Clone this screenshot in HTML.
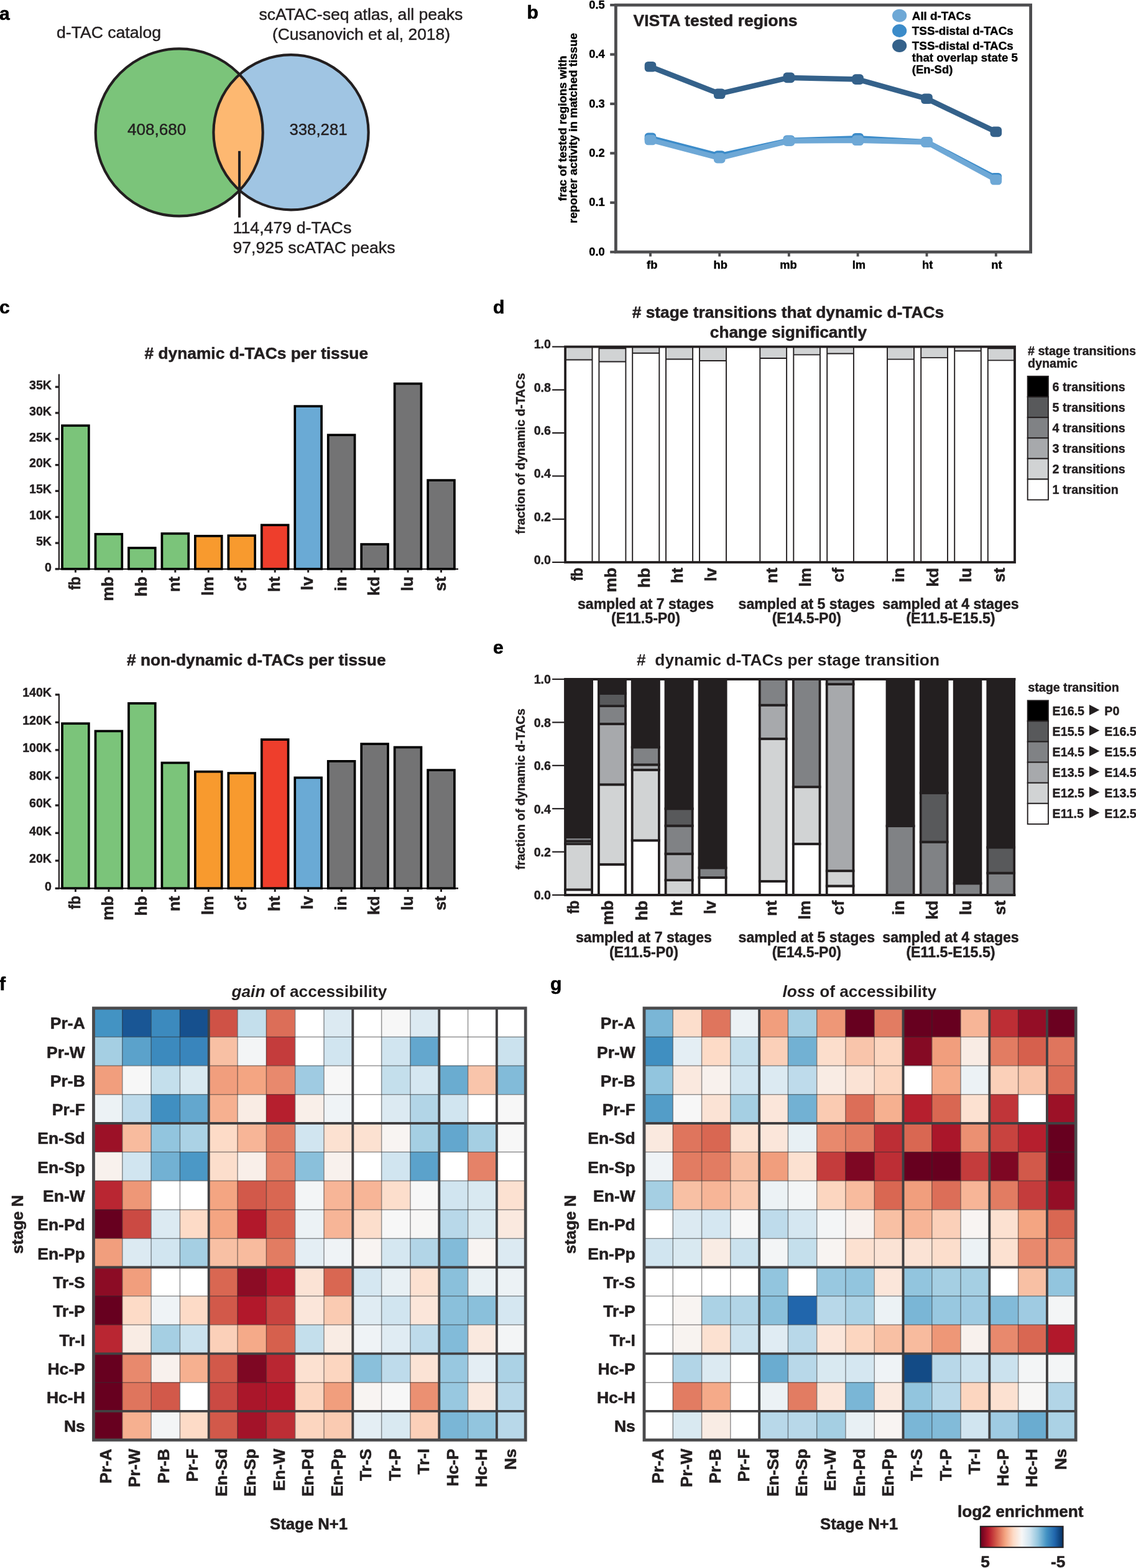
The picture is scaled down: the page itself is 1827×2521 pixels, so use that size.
<!DOCTYPE html>
<html lang="en"><head><meta charset="utf-8"><title>Figure: d-TAC dynamics</title>
<style>html,body{margin:0;padding:0;background:#fff}svg{display:block}text{font-family:'Liberation Sans', sans-serif}</style>
</head><body>
<svg width="1827" height="2521" viewBox="0 0 1827 2521" role="img" aria-label="Figure with panels a to g">
<rect x="0" y="0" width="1827" height="2521" fill="#ffffff"/>
<g id="panel-a">
<text font-size="30" font-weight="bold" text-anchor="start" fill="#000" stroke="#000" stroke-width="0.63" stroke-linejoin="round" x="-1.00" y="31.50">a</text>
<clipPath id="clipg"><circle cx="288.2" cy="212.9" r="134.5"/></clipPath>
<circle cx="288.2" cy="212.9" r="134.5" fill="#7bc47a"/>
<circle cx="468.0" cy="212.8" r="124.6" fill="#a0c5e3"/>
<circle cx="468.0" cy="212.8" r="124.6" fill="#fdb871" clip-path="url(#clipg)"/>
<circle cx="288.2" cy="212.9" r="134.5" fill="none" stroke="#231f20" stroke-width="4.2"/>
<circle cx="468.0" cy="212.8" r="124.6" fill="none" stroke="#231f20" stroke-width="4.2"/>
<line x1="385.00" y1="242.80" x2="385.00" y2="349.70" stroke="#231f20" stroke-width="4.1"/>
<text font-size="26.3" font-weight="normal" text-anchor="middle" fill="#231f20" stroke="#231f20" stroke-width="0.45" stroke-linejoin="round" textLength="168" lengthAdjust="spacingAndGlyphs" x="175.00" y="61.30">d-TAC catalog</text>
<text font-size="26.3" font-weight="normal" text-anchor="middle" fill="#231f20" stroke="#231f20" stroke-width="0.45" stroke-linejoin="round" textLength="328" lengthAdjust="spacingAndGlyphs" x="580.40" y="32.10">scATAC-seq atlas, all peaks</text>
<text font-size="26.3" font-weight="normal" text-anchor="middle" fill="#231f20" stroke="#231f20" stroke-width="0.45" stroke-linejoin="round" textLength="286" lengthAdjust="spacingAndGlyphs" x="581.00" y="63.70">(Cusanovich et al, 2018)</text>
<text font-size="26.3" font-weight="normal" text-anchor="middle" fill="#231f20" stroke="#231f20" stroke-width="0.45" stroke-linejoin="round" textLength="94.3" lengthAdjust="spacingAndGlyphs" x="252.20" y="217.30">408,680</text>
<text font-size="26.3" font-weight="normal" text-anchor="middle" fill="#231f20" stroke="#231f20" stroke-width="0.45" stroke-linejoin="round" textLength="93" lengthAdjust="spacingAndGlyphs" x="512.00" y="217.30">338,281</text>
<text font-size="26.3" font-weight="normal" text-anchor="start" fill="#231f20" stroke="#231f20" stroke-width="0.45" stroke-linejoin="round" textLength="190.8" lengthAdjust="spacingAndGlyphs" x="374.50" y="375.20">114,479 d-TACs</text>
<text font-size="26.3" font-weight="normal" text-anchor="start" fill="#231f20" stroke="#231f20" stroke-width="0.45" stroke-linejoin="round" textLength="261" lengthAdjust="spacingAndGlyphs" x="374.50" y="407.00">97,925 scATAC peaks</text>
</g>
<g id="panel-b">
<text font-size="30" font-weight="bold" text-anchor="start" fill="#000" stroke="#000" stroke-width="0.63" stroke-linejoin="round" x="847.50" y="30.40">b</text>
<polyline points="1046.0,221.9 1157.2,250.5 1268.8,225.8 1379.6,222.3 1490.5,228.2 1601.8,286.2" fill="none" stroke="#3b8bc9" stroke-width="8.5" stroke-linejoin="round"/>
<rect x="1036.7" y="213.6" width="18.6" height="16.6" rx="5.5" fill="#3b8bc9"/>
<rect x="1147.9" y="242.2" width="18.6" height="16.6" rx="5.5" fill="#3b8bc9"/>
<rect x="1259.5" y="217.5" width="18.6" height="16.6" rx="5.5" fill="#3b8bc9"/>
<rect x="1370.3" y="214.0" width="18.6" height="16.6" rx="5.5" fill="#3b8bc9"/>
<rect x="1481.2" y="219.9" width="18.6" height="16.6" rx="5.5" fill="#3b8bc9"/>
<rect x="1592.5" y="277.9" width="18.6" height="16.6" rx="5.5" fill="#3b8bc9"/>
<polyline points="1046.0,225.0 1157.2,254.1 1268.8,226.6 1379.6,225.8 1490.5,228.6 1601.8,289.0" fill="none" stroke="#6ea8d6" stroke-width="8.5" stroke-linejoin="round"/>
<rect x="1036.7" y="216.7" width="18.6" height="16.6" rx="5.5" fill="#6ea8d6"/>
<rect x="1147.9" y="245.8" width="18.6" height="16.6" rx="5.5" fill="#6ea8d6"/>
<rect x="1259.5" y="218.3" width="18.6" height="16.6" rx="5.5" fill="#6ea8d6"/>
<rect x="1370.3" y="217.5" width="18.6" height="16.6" rx="5.5" fill="#6ea8d6"/>
<rect x="1481.2" y="220.3" width="18.6" height="16.6" rx="5.5" fill="#6ea8d6"/>
<rect x="1592.5" y="280.7" width="18.6" height="16.6" rx="5.5" fill="#6ea8d6"/>
<polyline points="1046.0,107.2 1157.2,150.7 1268.8,124.9 1379.6,127.6 1490.5,158.7 1601.8,211.9" fill="none" stroke="#34618a" stroke-width="8.5" stroke-linejoin="round"/>
<rect x="1036.7" y="98.9" width="18.6" height="16.6" rx="5.5" fill="#34618a"/>
<rect x="1147.9" y="142.4" width="18.6" height="16.6" rx="5.5" fill="#34618a"/>
<rect x="1259.5" y="116.6" width="18.6" height="16.6" rx="5.5" fill="#34618a"/>
<rect x="1370.3" y="119.3" width="18.6" height="16.6" rx="5.5" fill="#34618a"/>
<rect x="1481.2" y="150.4" width="18.6" height="16.6" rx="5.5" fill="#34618a"/>
<rect x="1592.5" y="203.6" width="18.6" height="16.6" rx="5.5" fill="#34618a"/>
<rect x="990.40" y="8.10" width="667.20" height="397.00" fill="none" stroke="#4d4d4f" stroke-width="4.8"/>
<line x1="981.20" y1="405.20" x2="990.40" y2="405.20" stroke="#4d4d4f" stroke-width="4.2"/>
<text font-size="18.3" font-weight="bold" text-anchor="end" fill="#000" stroke="#000" stroke-width="0.38" stroke-linejoin="round" x="972.70" y="410.80">0.0</text>
<line x1="981.20" y1="325.78" x2="990.40" y2="325.78" stroke="#4d4d4f" stroke-width="4.2"/>
<text font-size="18.3" font-weight="bold" text-anchor="end" fill="#000" stroke="#000" stroke-width="0.38" stroke-linejoin="round" x="972.70" y="331.38">0.1</text>
<line x1="981.20" y1="246.36" x2="990.40" y2="246.36" stroke="#4d4d4f" stroke-width="4.2"/>
<text font-size="18.3" font-weight="bold" text-anchor="end" fill="#000" stroke="#000" stroke-width="0.38" stroke-linejoin="round" x="972.70" y="251.96">0.2</text>
<line x1="981.20" y1="166.94" x2="990.40" y2="166.94" stroke="#4d4d4f" stroke-width="4.2"/>
<text font-size="18.3" font-weight="bold" text-anchor="end" fill="#000" stroke="#000" stroke-width="0.38" stroke-linejoin="round" x="972.70" y="172.54">0.3</text>
<line x1="981.20" y1="87.52" x2="990.40" y2="87.52" stroke="#4d4d4f" stroke-width="4.2"/>
<text font-size="18.3" font-weight="bold" text-anchor="end" fill="#000" stroke="#000" stroke-width="0.38" stroke-linejoin="round" x="972.70" y="93.12">0.4</text>
<line x1="981.20" y1="8.10" x2="990.40" y2="8.10" stroke="#4d4d4f" stroke-width="4.2"/>
<text font-size="18.3" font-weight="bold" text-anchor="end" fill="#000" stroke="#000" stroke-width="0.38" stroke-linejoin="round" x="972.70" y="13.70">0.5</text>
<line x1="1046.00" y1="405.10" x2="1046.00" y2="412.40" stroke="#4d4d4f" stroke-width="3.9"/>
<text font-size="18.3" font-weight="bold" text-anchor="middle" fill="#000" stroke="#000" stroke-width="0.38" stroke-linejoin="round" x="1048.70" y="431.50">fb</text>
<line x1="1157.20" y1="405.10" x2="1157.20" y2="412.40" stroke="#4d4d4f" stroke-width="3.9"/>
<text font-size="18.3" font-weight="bold" text-anchor="middle" fill="#000" stroke="#000" stroke-width="0.38" stroke-linejoin="round" x="1158.70" y="431.50">hb</text>
<line x1="1268.80" y1="405.10" x2="1268.80" y2="412.40" stroke="#4d4d4f" stroke-width="3.9"/>
<text font-size="18.3" font-weight="bold" text-anchor="middle" fill="#000" stroke="#000" stroke-width="0.38" stroke-linejoin="round" x="1267.90" y="431.50">mb</text>
<line x1="1379.60" y1="405.10" x2="1379.60" y2="412.40" stroke="#4d4d4f" stroke-width="3.9"/>
<text font-size="18.3" font-weight="bold" text-anchor="middle" fill="#000" stroke="#000" stroke-width="0.38" stroke-linejoin="round" x="1381.30" y="431.50">lm</text>
<line x1="1490.50" y1="405.10" x2="1490.50" y2="412.40" stroke="#4d4d4f" stroke-width="3.9"/>
<text font-size="18.3" font-weight="bold" text-anchor="middle" fill="#000" stroke="#000" stroke-width="0.38" stroke-linejoin="round" x="1491.70" y="431.50">ht</text>
<line x1="1601.80" y1="405.10" x2="1601.80" y2="412.40" stroke="#4d4d4f" stroke-width="3.9"/>
<text font-size="18.3" font-weight="bold" text-anchor="middle" fill="#000" stroke="#000" stroke-width="0.38" stroke-linejoin="round" x="1603.00" y="431.50">nt</text>
<text font-size="26.6" font-weight="bold" text-anchor="start" fill="#231f20" stroke="#231f20" stroke-width="0.56" stroke-linejoin="round" textLength="264" lengthAdjust="spacingAndGlyphs" x="1018.50" y="42.00">VISTA tested regions</text>
<text font-size="18.8" font-weight="bold" text-anchor="middle" fill="#000" stroke="#000" stroke-width="0.39" stroke-linejoin="round" transform="translate(910.60,206.30) rotate(-90)">frac of tested regions with</text>
<text font-size="18.8" font-weight="bold" text-anchor="middle" fill="#000" stroke="#000" stroke-width="0.39" stroke-linejoin="round" transform="translate(928.40,206.00) rotate(-90)">reporter activity in matched tissue</text>
<ellipse cx="1446.6" cy="25.2" rx="11.6" ry="10.4" fill="#6ea8d6"/>
<ellipse cx="1446.6" cy="49.5" rx="11.6" ry="10.4" fill="#3b8bc9"/>
<ellipse cx="1446.6" cy="73.6" rx="11.6" ry="10.4" fill="#34618a"/>
<text font-size="18.8" font-weight="bold" text-anchor="start" fill="#000" stroke="#000" stroke-width="0.39" stroke-linejoin="round" textLength="94.8" lengthAdjust="spacingAndGlyphs" x="1466.80" y="32.00">All d-TACs</text>
<text font-size="18.8" font-weight="bold" text-anchor="start" fill="#000" stroke="#000" stroke-width="0.39" stroke-linejoin="round" textLength="163" lengthAdjust="spacingAndGlyphs" x="1466.80" y="56.30">TSS-distal d-TACs</text>
<text font-size="18.8" font-weight="bold" text-anchor="start" fill="#000" stroke="#000" stroke-width="0.39" stroke-linejoin="round" textLength="163" lengthAdjust="spacingAndGlyphs" x="1466.80" y="80.00">TSS-distal d-TACs</text>
<text font-size="18.8" font-weight="bold" text-anchor="start" fill="#000" stroke="#000" stroke-width="0.39" stroke-linejoin="round" textLength="170.2" lengthAdjust="spacingAndGlyphs" x="1466.80" y="99.20">that overlap state 5</text>
<text font-size="18.8" font-weight="bold" text-anchor="start" fill="#000" stroke="#000" stroke-width="0.39" stroke-linejoin="round" textLength="65.5" lengthAdjust="spacingAndGlyphs" x="1466.80" y="117.90">(En-Sd)</text>
</g>
<g id="panel-c">
<text font-size="30" font-weight="bold" text-anchor="start" fill="#000" stroke="#000" stroke-width="0.63" stroke-linejoin="round" x="-1.00" y="503.90">c</text>
<line x1="94.90" y1="601.40" x2="94.90" y2="916.10" stroke="#231f20" stroke-width="2.2"/>
<line x1="88.80" y1="914.90" x2="737.00" y2="914.90" stroke="#231f20" stroke-width="2.4"/>
<line x1="88.80" y1="914.90" x2="94.90" y2="914.90" stroke="#231f20" stroke-width="3.3"/>
<text font-size="19.6" font-weight="bold" text-anchor="end" fill="#231f20" stroke="#231f20" stroke-width="0.41" stroke-linejoin="round" x="83.00" y="918.80">0</text>
<line x1="88.80" y1="873.07" x2="94.90" y2="873.07" stroke="#231f20" stroke-width="3.3"/>
<text font-size="19.6" font-weight="bold" text-anchor="end" fill="#231f20" stroke="#231f20" stroke-width="0.41" stroke-linejoin="round" x="83.00" y="876.97">5K</text>
<line x1="88.80" y1="831.24" x2="94.90" y2="831.24" stroke="#231f20" stroke-width="3.3"/>
<text font-size="19.6" font-weight="bold" text-anchor="end" fill="#231f20" stroke="#231f20" stroke-width="0.41" stroke-linejoin="round" x="83.00" y="835.14">10K</text>
<line x1="88.80" y1="789.41" x2="94.90" y2="789.41" stroke="#231f20" stroke-width="3.3"/>
<text font-size="19.6" font-weight="bold" text-anchor="end" fill="#231f20" stroke="#231f20" stroke-width="0.41" stroke-linejoin="round" x="83.00" y="793.31">15K</text>
<line x1="88.80" y1="747.58" x2="94.90" y2="747.58" stroke="#231f20" stroke-width="3.3"/>
<text font-size="19.6" font-weight="bold" text-anchor="end" fill="#231f20" stroke="#231f20" stroke-width="0.41" stroke-linejoin="round" x="83.00" y="751.48">20K</text>
<line x1="88.80" y1="705.75" x2="94.90" y2="705.75" stroke="#231f20" stroke-width="3.3"/>
<text font-size="19.6" font-weight="bold" text-anchor="end" fill="#231f20" stroke="#231f20" stroke-width="0.41" stroke-linejoin="round" x="83.00" y="709.65">25K</text>
<line x1="88.80" y1="663.92" x2="94.90" y2="663.92" stroke="#231f20" stroke-width="3.3"/>
<text font-size="19.6" font-weight="bold" text-anchor="end" fill="#231f20" stroke="#231f20" stroke-width="0.41" stroke-linejoin="round" x="83.00" y="667.82">30K</text>
<line x1="88.80" y1="622.09" x2="94.90" y2="622.09" stroke="#231f20" stroke-width="3.3"/>
<text font-size="19.6" font-weight="bold" text-anchor="end" fill="#231f20" stroke="#231f20" stroke-width="0.41" stroke-linejoin="round" x="83.00" y="625.99">35K</text>
<rect x="100.05" y="684.25" width="42.80" height="230.50" fill="#7bc47a" stroke="#000" stroke-width="3.7"/>
<line x1="121.45" y1="914.90" x2="121.45" y2="920.50" stroke="#231f20" stroke-width="3"/>
<text font-size="26.3" font-weight="bold" text-anchor="end" fill="#231f20" stroke="#231f20" stroke-width="0.55" stroke-linejoin="round" textLength="21.5" lengthAdjust="spacingAndGlyphs" transform="translate(128.95,927.00) rotate(-90)">fb</text>
<rect x="153.51" y="858.75" width="42.80" height="56.00" fill="#7bc47a" stroke="#000" stroke-width="3.7"/>
<line x1="174.91" y1="914.90" x2="174.91" y2="920.50" stroke="#231f20" stroke-width="3"/>
<text font-size="26.3" font-weight="bold" text-anchor="end" fill="#231f20" stroke="#231f20" stroke-width="0.55" stroke-linejoin="round" transform="translate(182.41,927.00) rotate(-90)">mb</text>
<rect x="206.97" y="880.95" width="42.80" height="33.80" fill="#7bc47a" stroke="#000" stroke-width="3.7"/>
<line x1="228.37" y1="914.90" x2="228.37" y2="920.50" stroke="#231f20" stroke-width="3"/>
<text font-size="26.3" font-weight="bold" text-anchor="end" fill="#231f20" stroke="#231f20" stroke-width="0.55" stroke-linejoin="round" transform="translate(235.87,927.00) rotate(-90)">hb</text>
<rect x="260.43" y="857.85" width="42.80" height="56.90" fill="#7bc47a" stroke="#000" stroke-width="3.7"/>
<line x1="281.83" y1="914.90" x2="281.83" y2="920.50" stroke="#231f20" stroke-width="3"/>
<text font-size="26.3" font-weight="bold" text-anchor="end" fill="#231f20" stroke="#231f20" stroke-width="0.55" stroke-linejoin="round" transform="translate(289.33,927.00) rotate(-90)">nt</text>
<rect x="313.89" y="861.75" width="42.80" height="53.00" fill="#f89a2e" stroke="#000" stroke-width="3.7"/>
<line x1="335.29" y1="914.90" x2="335.29" y2="920.50" stroke="#231f20" stroke-width="3"/>
<text font-size="26.3" font-weight="bold" text-anchor="end" fill="#231f20" stroke="#231f20" stroke-width="0.55" stroke-linejoin="round" transform="translate(342.79,927.00) rotate(-90)">lm</text>
<rect x="367.35" y="861.15" width="42.80" height="53.60" fill="#f89a2e" stroke="#000" stroke-width="3.7"/>
<line x1="388.75" y1="914.90" x2="388.75" y2="920.50" stroke="#231f20" stroke-width="3"/>
<text font-size="26.3" font-weight="bold" text-anchor="end" fill="#231f20" stroke="#231f20" stroke-width="0.55" stroke-linejoin="round" transform="translate(396.25,927.00) rotate(-90)">cf</text>
<rect x="420.81" y="844.15" width="42.80" height="70.60" fill="#ee3e2c" stroke="#000" stroke-width="3.7"/>
<line x1="442.21" y1="914.90" x2="442.21" y2="920.50" stroke="#231f20" stroke-width="3"/>
<text font-size="26.3" font-weight="bold" text-anchor="end" fill="#231f20" stroke="#231f20" stroke-width="0.55" stroke-linejoin="round" transform="translate(449.71,927.00) rotate(-90)">ht</text>
<rect x="474.27" y="653.15" width="42.80" height="261.60" fill="#6aaad5" stroke="#000" stroke-width="3.7"/>
<line x1="495.67" y1="914.90" x2="495.67" y2="920.50" stroke="#231f20" stroke-width="3"/>
<text font-size="26.3" font-weight="bold" text-anchor="end" fill="#231f20" stroke="#231f20" stroke-width="0.55" stroke-linejoin="round" transform="translate(503.17,927.00) rotate(-90)">lv</text>
<rect x="527.73" y="699.35" width="42.80" height="215.40" fill="#737374" stroke="#000" stroke-width="3.7"/>
<line x1="549.13" y1="914.90" x2="549.13" y2="920.50" stroke="#231f20" stroke-width="3"/>
<text font-size="26.3" font-weight="bold" text-anchor="end" fill="#231f20" stroke="#231f20" stroke-width="0.55" stroke-linejoin="round" transform="translate(556.63,927.00) rotate(-90)">in</text>
<rect x="581.19" y="875.05" width="42.80" height="39.70" fill="#737374" stroke="#000" stroke-width="3.7"/>
<line x1="602.59" y1="914.90" x2="602.59" y2="920.50" stroke="#231f20" stroke-width="3"/>
<text font-size="26.3" font-weight="bold" text-anchor="end" fill="#231f20" stroke="#231f20" stroke-width="0.55" stroke-linejoin="round" transform="translate(610.09,927.00) rotate(-90)">kd</text>
<rect x="634.65" y="616.85" width="42.80" height="297.90" fill="#737374" stroke="#000" stroke-width="3.7"/>
<line x1="656.05" y1="914.90" x2="656.05" y2="920.50" stroke="#231f20" stroke-width="3"/>
<text font-size="26.3" font-weight="bold" text-anchor="end" fill="#231f20" stroke="#231f20" stroke-width="0.55" stroke-linejoin="round" transform="translate(663.55,927.00) rotate(-90)">lu</text>
<rect x="688.11" y="772.15" width="42.80" height="142.60" fill="#737374" stroke="#000" stroke-width="3.7"/>
<line x1="709.51" y1="914.90" x2="709.51" y2="920.50" stroke="#231f20" stroke-width="3"/>
<text font-size="26.3" font-weight="bold" text-anchor="end" fill="#231f20" stroke="#231f20" stroke-width="0.55" stroke-linejoin="round" transform="translate(717.01,927.00) rotate(-90)">st</text>
<text font-size="26.3" font-weight="bold" text-anchor="middle" fill="#231f20" stroke="#231f20" stroke-width="0.55" stroke-linejoin="round" textLength="359.6" lengthAdjust="spacingAndGlyphs" x="412.30" y="576.60"># dynamic d-TACs per tissue</text>
<line x1="94.90" y1="1115.40" x2="94.90" y2="1429.50" stroke="#231f20" stroke-width="2.2"/>
<line x1="88.80" y1="1428.30" x2="737.00" y2="1428.30" stroke="#231f20" stroke-width="2.4"/>
<line x1="88.80" y1="1428.30" x2="94.90" y2="1428.30" stroke="#231f20" stroke-width="3.3"/>
<text font-size="19.6" font-weight="bold" text-anchor="end" fill="#231f20" stroke="#231f20" stroke-width="0.41" stroke-linejoin="round" x="83.00" y="1431.60">0</text>
<line x1="88.80" y1="1383.81" x2="94.90" y2="1383.81" stroke="#231f20" stroke-width="3.3"/>
<text font-size="19.6" font-weight="bold" text-anchor="end" fill="#231f20" stroke="#231f20" stroke-width="0.41" stroke-linejoin="round" x="83.00" y="1387.11">20K</text>
<line x1="88.80" y1="1339.32" x2="94.90" y2="1339.32" stroke="#231f20" stroke-width="3.3"/>
<text font-size="19.6" font-weight="bold" text-anchor="end" fill="#231f20" stroke="#231f20" stroke-width="0.41" stroke-linejoin="round" x="83.00" y="1342.62">40K</text>
<line x1="88.80" y1="1294.83" x2="94.90" y2="1294.83" stroke="#231f20" stroke-width="3.3"/>
<text font-size="19.6" font-weight="bold" text-anchor="end" fill="#231f20" stroke="#231f20" stroke-width="0.41" stroke-linejoin="round" x="83.00" y="1298.13">60K</text>
<line x1="88.80" y1="1250.34" x2="94.90" y2="1250.34" stroke="#231f20" stroke-width="3.3"/>
<text font-size="19.6" font-weight="bold" text-anchor="end" fill="#231f20" stroke="#231f20" stroke-width="0.41" stroke-linejoin="round" x="83.00" y="1253.64">80K</text>
<line x1="88.80" y1="1205.85" x2="94.90" y2="1205.85" stroke="#231f20" stroke-width="3.3"/>
<text font-size="19.6" font-weight="bold" text-anchor="end" fill="#231f20" stroke="#231f20" stroke-width="0.41" stroke-linejoin="round" x="83.00" y="1209.15">100K</text>
<line x1="88.80" y1="1161.36" x2="94.90" y2="1161.36" stroke="#231f20" stroke-width="3.3"/>
<text font-size="19.6" font-weight="bold" text-anchor="end" fill="#231f20" stroke="#231f20" stroke-width="0.41" stroke-linejoin="round" x="83.00" y="1164.66">120K</text>
<line x1="88.80" y1="1116.87" x2="94.90" y2="1116.87" stroke="#231f20" stroke-width="3.3"/>
<text font-size="19.6" font-weight="bold" text-anchor="end" fill="#231f20" stroke="#231f20" stroke-width="0.41" stroke-linejoin="round" x="83.00" y="1120.17">140K</text>
<rect x="100.05" y="1163.25" width="42.80" height="264.90" fill="#7bc47a" stroke="#000" stroke-width="3.7"/>
<line x1="121.45" y1="1428.30" x2="121.45" y2="1433.90" stroke="#231f20" stroke-width="3"/>
<text font-size="26.3" font-weight="bold" text-anchor="end" fill="#231f20" stroke="#231f20" stroke-width="0.55" stroke-linejoin="round" textLength="21.5" lengthAdjust="spacingAndGlyphs" transform="translate(128.95,1440.40) rotate(-90)">fb</text>
<rect x="153.51" y="1175.45" width="42.80" height="252.70" fill="#7bc47a" stroke="#000" stroke-width="3.7"/>
<line x1="174.91" y1="1428.30" x2="174.91" y2="1433.90" stroke="#231f20" stroke-width="3"/>
<text font-size="26.3" font-weight="bold" text-anchor="end" fill="#231f20" stroke="#231f20" stroke-width="0.55" stroke-linejoin="round" transform="translate(182.41,1440.40) rotate(-90)">mb</text>
<rect x="206.97" y="1130.85" width="42.80" height="297.30" fill="#7bc47a" stroke="#000" stroke-width="3.7"/>
<line x1="228.37" y1="1428.30" x2="228.37" y2="1433.90" stroke="#231f20" stroke-width="3"/>
<text font-size="26.3" font-weight="bold" text-anchor="end" fill="#231f20" stroke="#231f20" stroke-width="0.55" stroke-linejoin="round" transform="translate(235.87,1440.40) rotate(-90)">hb</text>
<rect x="260.43" y="1226.45" width="42.80" height="201.70" fill="#7bc47a" stroke="#000" stroke-width="3.7"/>
<line x1="281.83" y1="1428.30" x2="281.83" y2="1433.90" stroke="#231f20" stroke-width="3"/>
<text font-size="26.3" font-weight="bold" text-anchor="end" fill="#231f20" stroke="#231f20" stroke-width="0.55" stroke-linejoin="round" transform="translate(289.33,1440.40) rotate(-90)">nt</text>
<rect x="313.89" y="1240.65" width="42.80" height="187.50" fill="#f89a2e" stroke="#000" stroke-width="3.7"/>
<line x1="335.29" y1="1428.30" x2="335.29" y2="1433.90" stroke="#231f20" stroke-width="3"/>
<text font-size="26.3" font-weight="bold" text-anchor="end" fill="#231f20" stroke="#231f20" stroke-width="0.55" stroke-linejoin="round" transform="translate(342.79,1440.40) rotate(-90)">lm</text>
<rect x="367.35" y="1243.05" width="42.80" height="185.10" fill="#f89a2e" stroke="#000" stroke-width="3.7"/>
<line x1="388.75" y1="1428.30" x2="388.75" y2="1433.90" stroke="#231f20" stroke-width="3"/>
<text font-size="26.3" font-weight="bold" text-anchor="end" fill="#231f20" stroke="#231f20" stroke-width="0.55" stroke-linejoin="round" transform="translate(396.25,1440.40) rotate(-90)">cf</text>
<rect x="420.81" y="1189.05" width="42.80" height="239.10" fill="#ee3e2c" stroke="#000" stroke-width="3.7"/>
<line x1="442.21" y1="1428.30" x2="442.21" y2="1433.90" stroke="#231f20" stroke-width="3"/>
<text font-size="26.3" font-weight="bold" text-anchor="end" fill="#231f20" stroke="#231f20" stroke-width="0.55" stroke-linejoin="round" transform="translate(449.71,1440.40) rotate(-90)">ht</text>
<rect x="474.27" y="1250.35" width="42.80" height="177.80" fill="#6aaad5" stroke="#000" stroke-width="3.7"/>
<line x1="495.67" y1="1428.30" x2="495.67" y2="1433.90" stroke="#231f20" stroke-width="3"/>
<text font-size="26.3" font-weight="bold" text-anchor="end" fill="#231f20" stroke="#231f20" stroke-width="0.55" stroke-linejoin="round" transform="translate(503.17,1440.40) rotate(-90)">lv</text>
<rect x="527.73" y="1223.85" width="42.80" height="204.30" fill="#737374" stroke="#000" stroke-width="3.7"/>
<line x1="549.13" y1="1428.30" x2="549.13" y2="1433.90" stroke="#231f20" stroke-width="3"/>
<text font-size="26.3" font-weight="bold" text-anchor="end" fill="#231f20" stroke="#231f20" stroke-width="0.55" stroke-linejoin="round" transform="translate(556.63,1440.40) rotate(-90)">in</text>
<rect x="581.19" y="1196.05" width="42.80" height="232.10" fill="#737374" stroke="#000" stroke-width="3.7"/>
<line x1="602.59" y1="1428.30" x2="602.59" y2="1433.90" stroke="#231f20" stroke-width="3"/>
<text font-size="26.3" font-weight="bold" text-anchor="end" fill="#231f20" stroke="#231f20" stroke-width="0.55" stroke-linejoin="round" transform="translate(610.09,1440.40) rotate(-90)">kd</text>
<rect x="634.65" y="1201.45" width="42.80" height="226.70" fill="#737374" stroke="#000" stroke-width="3.7"/>
<line x1="656.05" y1="1428.30" x2="656.05" y2="1433.90" stroke="#231f20" stroke-width="3"/>
<text font-size="26.3" font-weight="bold" text-anchor="end" fill="#231f20" stroke="#231f20" stroke-width="0.55" stroke-linejoin="round" transform="translate(663.55,1440.40) rotate(-90)">lu</text>
<rect x="688.11" y="1238.15" width="42.80" height="190.00" fill="#737374" stroke="#000" stroke-width="3.7"/>
<line x1="709.51" y1="1428.30" x2="709.51" y2="1433.90" stroke="#231f20" stroke-width="3"/>
<text font-size="26.3" font-weight="bold" text-anchor="end" fill="#231f20" stroke="#231f20" stroke-width="0.55" stroke-linejoin="round" transform="translate(717.01,1440.40) rotate(-90)">st</text>
<text font-size="26.3" font-weight="bold" text-anchor="middle" fill="#231f20" stroke="#231f20" stroke-width="0.55" stroke-linejoin="round" textLength="416.5" lengthAdjust="spacingAndGlyphs" x="412.30" y="1069.70"># non-dynamic d-TACs per tissue</text>
</g>
<g id="panel-d">
<text font-size="30" font-weight="bold" text-anchor="start" fill="#000" stroke="#000" stroke-width="0.63" stroke-linejoin="round" x="793.00" y="503.50">d</text>
<text font-size="26.3" font-weight="bold" text-anchor="middle" fill="#231f20" stroke="#231f20" stroke-width="0.55" stroke-linejoin="round" textLength="501.4" lengthAdjust="spacingAndGlyphs" x="1267.40" y="511.10"># stage transitions that dynamic d-TACs</text>
<text font-size="26.3" font-weight="bold" text-anchor="middle" fill="#231f20" stroke="#231f20" stroke-width="0.55" stroke-linejoin="round" textLength="252.2" lengthAdjust="spacingAndGlyphs" x="1267.90" y="543.00">change significantly</text>
<rect x="909.50" y="557.50" width="43.00" height="346.50" fill="#fff"/>
<rect x="909.50" y="557.50" width="43.00" height="20.50" fill="#d1d3d4"/>
<line x1="909.50" y1="578.50" x2="952.50" y2="578.50" stroke="#231f20" stroke-width="1.9"/>
<line x1="909.50" y1="557.50" x2="909.50" y2="904.00" stroke="#231f20" stroke-width="1.9"/>
<line x1="952.50" y1="557.50" x2="952.50" y2="904.00" stroke="#231f20" stroke-width="1.9"/>
<rect x="963.40" y="557.50" width="43.00" height="346.50" fill="#fff"/>
<rect x="963.40" y="557.50" width="43.00" height="23.50" fill="#d1d3d4"/>
<rect x="963.40" y="557.50" width="43.00" height="3.70" fill="#231f20"/>
<line x1="963.40" y1="581.50" x2="1006.40" y2="581.50" stroke="#231f20" stroke-width="1.9"/>
<line x1="963.40" y1="557.50" x2="963.40" y2="904.00" stroke="#231f20" stroke-width="1.9"/>
<line x1="1006.40" y1="557.50" x2="1006.40" y2="904.00" stroke="#231f20" stroke-width="1.9"/>
<rect x="1017.20" y="557.50" width="43.10" height="346.50" fill="#fff"/>
<rect x="1017.20" y="557.50" width="43.10" height="9.80" fill="#d1d3d4"/>
<line x1="1017.20" y1="567.80" x2="1060.30" y2="567.80" stroke="#231f20" stroke-width="1.9"/>
<line x1="1017.20" y1="557.50" x2="1017.20" y2="904.00" stroke="#231f20" stroke-width="1.9"/>
<line x1="1060.30" y1="557.50" x2="1060.30" y2="904.00" stroke="#231f20" stroke-width="1.9"/>
<rect x="1071.00" y="557.50" width="43.10" height="346.50" fill="#fff"/>
<rect x="1071.00" y="557.50" width="43.10" height="19.50" fill="#d1d3d4"/>
<line x1="1071.00" y1="577.50" x2="1114.10" y2="577.50" stroke="#231f20" stroke-width="1.9"/>
<line x1="1071.00" y1="557.50" x2="1071.00" y2="904.00" stroke="#231f20" stroke-width="1.9"/>
<line x1="1114.10" y1="557.50" x2="1114.10" y2="904.00" stroke="#231f20" stroke-width="1.9"/>
<rect x="1125.00" y="557.50" width="43.00" height="346.50" fill="#fff"/>
<rect x="1125.00" y="557.50" width="43.00" height="22.00" fill="#d1d3d4"/>
<line x1="1125.00" y1="580.00" x2="1168.00" y2="580.00" stroke="#231f20" stroke-width="1.9"/>
<line x1="1125.00" y1="557.50" x2="1125.00" y2="904.00" stroke="#231f20" stroke-width="1.9"/>
<line x1="1168.00" y1="557.50" x2="1168.00" y2="904.00" stroke="#231f20" stroke-width="1.9"/>
<rect x="1222.30" y="557.50" width="42.80" height="346.50" fill="#fff"/>
<rect x="1222.30" y="557.50" width="42.80" height="18.00" fill="#d1d3d4"/>
<line x1="1222.30" y1="576.00" x2="1265.10" y2="576.00" stroke="#231f20" stroke-width="1.9"/>
<line x1="1222.30" y1="557.50" x2="1222.30" y2="904.00" stroke="#231f20" stroke-width="1.9"/>
<line x1="1265.10" y1="557.50" x2="1265.10" y2="904.00" stroke="#231f20" stroke-width="1.9"/>
<rect x="1276.30" y="557.50" width="42.60" height="346.50" fill="#fff"/>
<rect x="1276.30" y="557.50" width="42.60" height="12.40" fill="#d1d3d4"/>
<line x1="1276.30" y1="570.40" x2="1318.90" y2="570.40" stroke="#231f20" stroke-width="1.9"/>
<line x1="1276.30" y1="557.50" x2="1276.30" y2="904.00" stroke="#231f20" stroke-width="1.9"/>
<line x1="1318.90" y1="557.50" x2="1318.90" y2="904.00" stroke="#231f20" stroke-width="1.9"/>
<rect x="1330.20" y="557.50" width="42.70" height="346.50" fill="#fff"/>
<rect x="1330.20" y="557.50" width="42.70" height="10.50" fill="#d1d3d4"/>
<line x1="1330.20" y1="568.50" x2="1372.90" y2="568.50" stroke="#231f20" stroke-width="1.9"/>
<line x1="1330.20" y1="557.50" x2="1330.20" y2="904.00" stroke="#231f20" stroke-width="1.9"/>
<line x1="1372.90" y1="557.50" x2="1372.90" y2="904.00" stroke="#231f20" stroke-width="1.9"/>
<rect x="1427.00" y="557.50" width="43.00" height="346.50" fill="#fff"/>
<rect x="1427.00" y="557.50" width="43.00" height="19.60" fill="#d1d3d4"/>
<line x1="1427.00" y1="577.60" x2="1470.00" y2="577.60" stroke="#231f20" stroke-width="1.9"/>
<line x1="1427.00" y1="557.50" x2="1427.00" y2="904.00" stroke="#231f20" stroke-width="1.9"/>
<line x1="1470.00" y1="557.50" x2="1470.00" y2="904.00" stroke="#231f20" stroke-width="1.9"/>
<rect x="1481.20" y="557.50" width="42.80" height="346.50" fill="#fff"/>
<rect x="1481.20" y="557.50" width="42.80" height="17.10" fill="#d1d3d4"/>
<line x1="1481.20" y1="575.10" x2="1524.00" y2="575.10" stroke="#231f20" stroke-width="1.9"/>
<line x1="1481.20" y1="557.50" x2="1481.20" y2="904.00" stroke="#231f20" stroke-width="1.9"/>
<line x1="1524.00" y1="557.50" x2="1524.00" y2="904.00" stroke="#231f20" stroke-width="1.9"/>
<rect x="1535.20" y="557.50" width="42.60" height="346.50" fill="#fff"/>
<rect x="1535.20" y="557.50" width="42.60" height="6.20" fill="#d1d3d4"/>
<line x1="1535.20" y1="564.20" x2="1577.80" y2="564.20" stroke="#231f20" stroke-width="1.9"/>
<line x1="1535.20" y1="557.50" x2="1535.20" y2="904.00" stroke="#231f20" stroke-width="1.9"/>
<line x1="1577.80" y1="557.50" x2="1577.80" y2="904.00" stroke="#231f20" stroke-width="1.9"/>
<rect x="1588.80" y="557.50" width="42.80" height="346.50" fill="#fff"/>
<rect x="1588.80" y="557.50" width="42.80" height="21.40" fill="#d1d3d4"/>
<rect x="1588.80" y="557.50" width="42.80" height="3.70" fill="#231f20"/>
<line x1="1588.80" y1="579.40" x2="1631.60" y2="579.40" stroke="#231f20" stroke-width="1.9"/>
<line x1="1588.80" y1="557.50" x2="1588.80" y2="904.00" stroke="#231f20" stroke-width="1.9"/>
<line x1="1631.60" y1="557.50" x2="1631.60" y2="904.00" stroke="#231f20" stroke-width="1.9"/>
<rect x="909.10" y="557.50" width="722.90" height="346.50" fill="none" stroke="#231f20" stroke-width="3.8"/>
<line x1="888.10" y1="904.00" x2="908.00" y2="904.00" stroke="#231f20" stroke-width="2.2"/>
<text font-size="19.7" font-weight="bold" text-anchor="end" fill="#231f20" stroke="#231f20" stroke-width="0.41" stroke-linejoin="round" x="886.00" y="906.90">0.0</text>
<line x1="888.10" y1="834.70" x2="908.00" y2="834.70" stroke="#231f20" stroke-width="2.2"/>
<text font-size="19.7" font-weight="bold" text-anchor="end" fill="#231f20" stroke="#231f20" stroke-width="0.41" stroke-linejoin="round" x="886.00" y="837.60">0.2</text>
<line x1="888.10" y1="765.40" x2="908.00" y2="765.40" stroke="#231f20" stroke-width="2.2"/>
<text font-size="19.7" font-weight="bold" text-anchor="end" fill="#231f20" stroke="#231f20" stroke-width="0.41" stroke-linejoin="round" x="886.00" y="768.30">0.4</text>
<line x1="888.10" y1="696.10" x2="908.00" y2="696.10" stroke="#231f20" stroke-width="2.2"/>
<text font-size="19.7" font-weight="bold" text-anchor="end" fill="#231f20" stroke="#231f20" stroke-width="0.41" stroke-linejoin="round" x="886.00" y="699.00">0.6</text>
<line x1="888.10" y1="626.80" x2="908.00" y2="626.80" stroke="#231f20" stroke-width="2.2"/>
<text font-size="19.7" font-weight="bold" text-anchor="end" fill="#231f20" stroke="#231f20" stroke-width="0.41" stroke-linejoin="round" x="886.00" y="629.70">0.8</text>
<line x1="888.10" y1="557.50" x2="908.00" y2="557.50" stroke="#231f20" stroke-width="2.2"/>
<text font-size="19.7" font-weight="bold" text-anchor="end" fill="#231f20" stroke="#231f20" stroke-width="0.41" stroke-linejoin="round" x="886.00" y="560.40">1.0</text>
<text font-size="20" font-weight="bold" text-anchor="middle" fill="#231f20" stroke="#231f20" stroke-width="0.42" stroke-linejoin="round" textLength="259" lengthAdjust="spacingAndGlyphs" transform="translate(844.30,729.25) rotate(-90)">fraction of dynamic d-TACs</text>
<text font-size="26.3" font-weight="bold" text-anchor="end" fill="#231f20" stroke="#231f20" stroke-width="0.55" stroke-linejoin="round" textLength="21.5" lengthAdjust="spacingAndGlyphs" transform="translate(937.30,912.80) rotate(-90)">fb</text>
<text font-size="26.3" font-weight="bold" text-anchor="end" fill="#231f20" stroke="#231f20" stroke-width="0.55" stroke-linejoin="round" transform="translate(990.80,912.80) rotate(-90)">mb</text>
<text font-size="26.3" font-weight="bold" text-anchor="end" fill="#231f20" stroke="#231f20" stroke-width="0.55" stroke-linejoin="round" transform="translate(1044.60,912.80) rotate(-90)">hb</text>
<text font-size="26.3" font-weight="bold" text-anchor="end" fill="#231f20" stroke="#231f20" stroke-width="0.55" stroke-linejoin="round" transform="translate(1097.80,912.80) rotate(-90)">ht</text>
<text font-size="26.3" font-weight="bold" text-anchor="end" fill="#231f20" stroke="#231f20" stroke-width="0.55" stroke-linejoin="round" transform="translate(1152.00,912.80) rotate(-90)">lv</text>
<text font-size="26.3" font-weight="bold" text-anchor="end" fill="#231f20" stroke="#231f20" stroke-width="0.55" stroke-linejoin="round" transform="translate(1249.50,912.80) rotate(-90)">nt</text>
<text font-size="26.3" font-weight="bold" text-anchor="end" fill="#231f20" stroke="#231f20" stroke-width="0.55" stroke-linejoin="round" transform="translate(1303.70,912.80) rotate(-90)">lm</text>
<text font-size="26.3" font-weight="bold" text-anchor="end" fill="#231f20" stroke="#231f20" stroke-width="0.55" stroke-linejoin="round" transform="translate(1357.40,912.80) rotate(-90)">cf</text>
<text font-size="26.3" font-weight="bold" text-anchor="end" fill="#231f20" stroke="#231f20" stroke-width="0.55" stroke-linejoin="round" transform="translate(1454.40,912.80) rotate(-90)">in</text>
<text font-size="26.3" font-weight="bold" text-anchor="end" fill="#231f20" stroke="#231f20" stroke-width="0.55" stroke-linejoin="round" transform="translate(1508.80,912.80) rotate(-90)">kd</text>
<text font-size="26.3" font-weight="bold" text-anchor="end" fill="#231f20" stroke="#231f20" stroke-width="0.55" stroke-linejoin="round" transform="translate(1561.80,912.80) rotate(-90)">lu</text>
<text font-size="26.3" font-weight="bold" text-anchor="end" fill="#231f20" stroke="#231f20" stroke-width="0.55" stroke-linejoin="round" transform="translate(1616.30,912.80) rotate(-90)">st</text>
<text font-size="23.1" font-weight="bold" text-anchor="middle" fill="#231f20" stroke="#231f20" stroke-width="0.48" stroke-linejoin="round" textLength="219" lengthAdjust="spacingAndGlyphs" x="1038.50" y="978.50">sampled at 7 stages</text>
<text font-size="23.1" font-weight="bold" text-anchor="middle" fill="#231f20" stroke="#231f20" stroke-width="0.48" stroke-linejoin="round" textLength="111" lengthAdjust="spacingAndGlyphs" x="1038.50" y="1002.00">(E11.5-P0)</text>
<text font-size="23.1" font-weight="bold" text-anchor="middle" fill="#231f20" stroke="#231f20" stroke-width="0.48" stroke-linejoin="round" textLength="219.5" lengthAdjust="spacingAndGlyphs" x="1297.30" y="978.50">sampled at 5 stages</text>
<text font-size="23.1" font-weight="bold" text-anchor="middle" fill="#231f20" stroke="#231f20" stroke-width="0.48" stroke-linejoin="round" textLength="111.3" lengthAdjust="spacingAndGlyphs" x="1297.30" y="1002.00">(E14.5-P0)</text>
<text font-size="23.1" font-weight="bold" text-anchor="middle" fill="#231f20" stroke="#231f20" stroke-width="0.48" stroke-linejoin="round" textLength="219.3" lengthAdjust="spacingAndGlyphs" x="1529.00" y="978.50">sampled at 4 stages</text>
<text font-size="23.1" font-weight="bold" text-anchor="middle" fill="#231f20" stroke="#231f20" stroke-width="0.48" stroke-linejoin="round" textLength="143.2" lengthAdjust="spacingAndGlyphs" x="1529.00" y="1002.00">(E11.5-E15.5)</text>
<rect x="1652.70" y="605.00" width="33.20" height="33.10" fill="#000000" stroke="#231f20" stroke-width="1.9"/>
<rect x="1652.70" y="638.10" width="33.20" height="33.10" fill="#58595b" stroke="#231f20" stroke-width="1.9"/>
<rect x="1652.70" y="671.20" width="33.20" height="33.10" fill="#808285" stroke="#231f20" stroke-width="1.9"/>
<rect x="1652.70" y="704.30" width="33.20" height="33.10" fill="#a7a9ac" stroke="#231f20" stroke-width="1.9"/>
<rect x="1652.70" y="737.40" width="33.20" height="33.10" fill="#d1d3d4" stroke="#231f20" stroke-width="1.9"/>
<rect x="1652.70" y="770.50" width="33.20" height="33.10" fill="#ffffff" stroke="#231f20" stroke-width="1.9"/>
<text font-size="19.7" font-weight="bold" text-anchor="start" fill="#231f20" stroke="#231f20" stroke-width="0.41" stroke-linejoin="round" x="1692.60" y="628.70">6 transitions</text>
<text font-size="19.7" font-weight="bold" text-anchor="start" fill="#231f20" stroke="#231f20" stroke-width="0.41" stroke-linejoin="round" x="1692.60" y="661.75">5 transitions</text>
<text font-size="19.7" font-weight="bold" text-anchor="start" fill="#231f20" stroke="#231f20" stroke-width="0.41" stroke-linejoin="round" x="1692.60" y="694.80">4 transitions</text>
<text font-size="19.7" font-weight="bold" text-anchor="start" fill="#231f20" stroke="#231f20" stroke-width="0.41" stroke-linejoin="round" x="1692.60" y="727.85">3 transitions</text>
<text font-size="19.7" font-weight="bold" text-anchor="start" fill="#231f20" stroke="#231f20" stroke-width="0.41" stroke-linejoin="round" x="1692.60" y="760.90">2 transitions</text>
<text font-size="19.7" font-weight="bold" text-anchor="start" fill="#231f20" stroke="#231f20" stroke-width="0.41" stroke-linejoin="round" x="1692.60" y="793.95">1 transition</text>
<text font-size="19.7" font-weight="bold" text-anchor="start" fill="#231f20" stroke="#231f20" stroke-width="0.41" stroke-linejoin="round" x="1653.00" y="570.60"># stage transitions</text>
<text font-size="19.7" font-weight="bold" text-anchor="start" fill="#231f20" stroke="#231f20" stroke-width="0.41" stroke-linejoin="round" x="1653.00" y="590.50">dynamic</text>
</g>
<g id="panel-e">
<text font-size="30" font-weight="bold" text-anchor="start" fill="#000" stroke="#000" stroke-width="0.63" stroke-linejoin="round" x="793.00" y="1051.30">e</text>
<text x="1267.5" y="1070.1" font-size="26.3" font-weight="bold" text-anchor="middle" fill="#231f20" xml:space="preserve" textLength="487" lengthAdjust="spacingAndGlyphs">#  dynamic d-TACs per stage transition</text>
<rect x="909.00" y="1430.38" width="43.10" height="8.62" fill="#ffffff" stroke="#231f20" stroke-width="3.8"/>
<rect x="909.00" y="1356.64" width="43.10" height="73.74" fill="#d1d3d4" stroke="#231f20" stroke-width="3.8"/>
<rect x="909.00" y="1092.00" width="43.10" height="264.64" fill="#231f20" stroke="#231f20" stroke-width="3.8"/>
<rect x="962.90" y="1389.78" width="43.10" height="49.22" fill="#ffffff" stroke="#231f20" stroke-width="3.8"/>
<rect x="962.90" y="1261.39" width="43.10" height="128.39" fill="#d1d3d4" stroke="#231f20" stroke-width="3.8"/>
<rect x="962.90" y="1163.88" width="43.10" height="97.51" fill="#a7a9ac" stroke="#231f20" stroke-width="3.8"/>
<rect x="962.90" y="1135.08" width="43.10" height="28.80" fill="#808285" stroke="#231f20" stroke-width="3.8"/>
<rect x="962.90" y="1114.96" width="43.10" height="20.13" fill="#58595b" stroke="#231f20" stroke-width="3.8"/>
<rect x="962.90" y="1092.00" width="43.10" height="22.96" fill="#231f20" stroke="#231f20" stroke-width="3.8"/>
<rect x="1016.70" y="1351.26" width="43.20" height="87.74" fill="#ffffff" stroke="#231f20" stroke-width="3.8"/>
<rect x="1016.70" y="1237.79" width="43.20" height="113.47" fill="#d1d3d4" stroke="#231f20" stroke-width="3.8"/>
<rect x="1016.70" y="1229.47" width="43.20" height="8.33" fill="#a7a9ac" stroke="#231f20" stroke-width="3.8"/>
<rect x="1016.70" y="1201.36" width="43.20" height="28.11" fill="#808285" stroke="#231f20" stroke-width="3.8"/>
<rect x="1016.70" y="1092.00" width="43.20" height="109.36" fill="#231f20" stroke="#231f20" stroke-width="3.8"/>
<rect x="1070.50" y="1415.11" width="43.20" height="23.89" fill="#d1d3d4" stroke="#231f20" stroke-width="3.8"/>
<rect x="1070.50" y="1372.78" width="43.20" height="42.33" fill="#a7a9ac" stroke="#231f20" stroke-width="3.8"/>
<rect x="1070.50" y="1327.67" width="43.20" height="45.11" fill="#808285" stroke="#231f20" stroke-width="3.8"/>
<rect x="1070.50" y="1300.25" width="43.20" height="27.41" fill="#58595b" stroke="#231f20" stroke-width="3.8"/>
<rect x="1070.50" y="1092.00" width="43.20" height="208.25" fill="#231f20" stroke="#231f20" stroke-width="3.8"/>
<rect x="1124.50" y="1410.95" width="43.10" height="28.05" fill="#ffffff" stroke="#231f20" stroke-width="3.8"/>
<rect x="1124.50" y="1395.33" width="43.10" height="15.62" fill="#808285" stroke="#231f20" stroke-width="3.8"/>
<rect x="1124.50" y="1092.00" width="43.10" height="303.33" fill="#231f20" stroke="#231f20" stroke-width="3.8"/>
<rect x="1221.80" y="1416.85" width="42.90" height="22.15" fill="#ffffff" stroke="#231f20" stroke-width="3.8"/>
<rect x="1221.80" y="1187.83" width="42.90" height="229.02" fill="#d1d3d4" stroke="#231f20" stroke-width="3.8"/>
<rect x="1221.80" y="1133.69" width="42.90" height="54.13" fill="#a7a9ac" stroke="#231f20" stroke-width="3.8"/>
<rect x="1221.80" y="1092.00" width="42.90" height="41.69" fill="#808285" stroke="#231f20" stroke-width="3.8"/>
<rect x="1275.80" y="1356.81" width="42.70" height="82.19" fill="#ffffff" stroke="#231f20" stroke-width="3.8"/>
<rect x="1275.80" y="1265.21" width="42.70" height="91.61" fill="#d1d3d4" stroke="#231f20" stroke-width="3.8"/>
<rect x="1275.80" y="1092.00" width="42.70" height="173.21" fill="#808285" stroke="#231f20" stroke-width="3.8"/>
<rect x="1329.70" y="1424.48" width="42.80" height="14.52" fill="#ffffff" stroke="#231f20" stroke-width="3.8"/>
<rect x="1329.70" y="1400.19" width="42.80" height="24.29" fill="#d1d3d4" stroke="#231f20" stroke-width="3.8"/>
<rect x="1329.70" y="1100.03" width="42.80" height="300.15" fill="#a7a9ac" stroke="#231f20" stroke-width="3.8"/>
<rect x="1329.70" y="1092.00" width="42.80" height="8.03" fill="#808285" stroke="#231f20" stroke-width="3.8"/>
<rect x="1426.50" y="1328.01" width="43.10" height="110.99" fill="#808285" stroke="#231f20" stroke-width="3.8"/>
<rect x="1426.50" y="1092.00" width="43.10" height="236.01" fill="#231f20" stroke="#231f20" stroke-width="3.8"/>
<rect x="1480.70" y="1353.69" width="42.90" height="85.31" fill="#808285" stroke="#231f20" stroke-width="3.8"/>
<rect x="1480.70" y="1274.92" width="42.90" height="78.77" fill="#58595b" stroke="#231f20" stroke-width="3.8"/>
<rect x="1480.70" y="1092.00" width="42.90" height="182.92" fill="#231f20" stroke="#231f20" stroke-width="3.8"/>
<rect x="1534.70" y="1420.32" width="42.70" height="18.68" fill="#808285" stroke="#231f20" stroke-width="3.8"/>
<rect x="1534.70" y="1092.00" width="42.70" height="328.32" fill="#231f20" stroke="#231f20" stroke-width="3.8"/>
<rect x="1588.30" y="1403.66" width="42.90" height="35.34" fill="#808285" stroke="#231f20" stroke-width="3.8"/>
<rect x="1588.30" y="1362.37" width="42.90" height="41.29" fill="#58595b" stroke="#231f20" stroke-width="3.8"/>
<rect x="1588.30" y="1092.00" width="42.90" height="270.37" fill="#231f20" stroke="#231f20" stroke-width="3.8"/>
<line x1="910.90" y1="1349.30" x2="950.20" y2="1349.30" stroke="#808285" stroke-width="2.6"/>
<line x1="910.90" y1="1354.90" x2="950.20" y2="1354.90" stroke="#6d6e71" stroke-width="0.9"/>
<line x1="907.70" y1="1092.00" x2="1633.40" y2="1092.00" stroke="#231f20" stroke-width="4.0"/>
<line x1="907.70" y1="1439.00" x2="1633.40" y2="1439.00" stroke="#231f20" stroke-width="4.0"/>
<line x1="888.10" y1="1439.00" x2="908.00" y2="1439.00" stroke="#231f20" stroke-width="2.2"/>
<text font-size="19.7" font-weight="bold" text-anchor="end" fill="#231f20" stroke="#231f20" stroke-width="0.41" stroke-linejoin="round" x="886.00" y="1446.30">0.0</text>
<line x1="888.10" y1="1369.60" x2="908.00" y2="1369.60" stroke="#231f20" stroke-width="2.2"/>
<text font-size="19.7" font-weight="bold" text-anchor="end" fill="#231f20" stroke="#231f20" stroke-width="0.41" stroke-linejoin="round" x="886.00" y="1376.90">0.2</text>
<line x1="888.10" y1="1300.20" x2="908.00" y2="1300.20" stroke="#231f20" stroke-width="2.2"/>
<text font-size="19.7" font-weight="bold" text-anchor="end" fill="#231f20" stroke="#231f20" stroke-width="0.41" stroke-linejoin="round" x="886.00" y="1307.50">0.4</text>
<line x1="888.10" y1="1230.80" x2="908.00" y2="1230.80" stroke="#231f20" stroke-width="2.2"/>
<text font-size="19.7" font-weight="bold" text-anchor="end" fill="#231f20" stroke="#231f20" stroke-width="0.41" stroke-linejoin="round" x="886.00" y="1238.10">0.6</text>
<line x1="888.10" y1="1161.40" x2="908.00" y2="1161.40" stroke="#231f20" stroke-width="2.2"/>
<text font-size="19.7" font-weight="bold" text-anchor="end" fill="#231f20" stroke="#231f20" stroke-width="0.41" stroke-linejoin="round" x="886.00" y="1168.70">0.8</text>
<line x1="888.10" y1="1092.00" x2="908.00" y2="1092.00" stroke="#231f20" stroke-width="2.2"/>
<text font-size="19.7" font-weight="bold" text-anchor="end" fill="#231f20" stroke="#231f20" stroke-width="0.41" stroke-linejoin="round" x="886.00" y="1099.30">1.0</text>
<text font-size="20" font-weight="bold" text-anchor="middle" fill="#231f20" stroke="#231f20" stroke-width="0.42" stroke-linejoin="round" textLength="259" lengthAdjust="spacingAndGlyphs" transform="translate(844.30,1268.70) rotate(-90)">fraction of dynamic d-TACs</text>
<text font-size="26.3" font-weight="bold" text-anchor="end" fill="#231f20" stroke="#231f20" stroke-width="0.55" stroke-linejoin="round" textLength="21.5" lengthAdjust="spacingAndGlyphs" transform="translate(931.00,1447.80) rotate(-90)">fb</text>
<text font-size="26.3" font-weight="bold" text-anchor="end" fill="#231f20" stroke="#231f20" stroke-width="0.55" stroke-linejoin="round" transform="translate(986.30,1447.80) rotate(-90)">mb</text>
<text font-size="26.3" font-weight="bold" text-anchor="end" fill="#231f20" stroke="#231f20" stroke-width="0.55" stroke-linejoin="round" transform="translate(1040.80,1447.80) rotate(-90)">hb</text>
<text font-size="26.3" font-weight="bold" text-anchor="end" fill="#231f20" stroke="#231f20" stroke-width="0.55" stroke-linejoin="round" transform="translate(1096.50,1447.80) rotate(-90)">ht</text>
<text font-size="26.3" font-weight="bold" text-anchor="end" fill="#231f20" stroke="#231f20" stroke-width="0.55" stroke-linejoin="round" transform="translate(1151.20,1447.80) rotate(-90)">lv</text>
<text font-size="26.3" font-weight="bold" text-anchor="end" fill="#231f20" stroke="#231f20" stroke-width="0.55" stroke-linejoin="round" transform="translate(1249.30,1447.80) rotate(-90)">nt</text>
<text font-size="26.3" font-weight="bold" text-anchor="end" fill="#231f20" stroke="#231f20" stroke-width="0.55" stroke-linejoin="round" transform="translate(1302.50,1447.80) rotate(-90)">lm</text>
<text font-size="26.3" font-weight="bold" text-anchor="end" fill="#231f20" stroke="#231f20" stroke-width="0.55" stroke-linejoin="round" transform="translate(1356.70,1447.80) rotate(-90)">cf</text>
<text font-size="26.3" font-weight="bold" text-anchor="end" fill="#231f20" stroke="#231f20" stroke-width="0.55" stroke-linejoin="round" transform="translate(1454.00,1447.80) rotate(-90)">in</text>
<text font-size="26.3" font-weight="bold" text-anchor="end" fill="#231f20" stroke="#231f20" stroke-width="0.55" stroke-linejoin="round" transform="translate(1508.10,1447.80) rotate(-90)">kd</text>
<text font-size="26.3" font-weight="bold" text-anchor="end" fill="#231f20" stroke="#231f20" stroke-width="0.55" stroke-linejoin="round" transform="translate(1561.90,1447.80) rotate(-90)">lu</text>
<text font-size="26.3" font-weight="bold" text-anchor="end" fill="#231f20" stroke="#231f20" stroke-width="0.55" stroke-linejoin="round" transform="translate(1616.70,1447.80) rotate(-90)">st</text>
<text font-size="23.1" font-weight="bold" text-anchor="middle" fill="#231f20" stroke="#231f20" stroke-width="0.48" stroke-linejoin="round" textLength="219" lengthAdjust="spacingAndGlyphs" x="1035.40" y="1515.00">sampled at 7 stages</text>
<text font-size="23.1" font-weight="bold" text-anchor="middle" fill="#231f20" stroke="#231f20" stroke-width="0.48" stroke-linejoin="round" textLength="111" lengthAdjust="spacingAndGlyphs" x="1035.40" y="1538.60">(E11.5-P0)</text>
<text font-size="23.1" font-weight="bold" text-anchor="middle" fill="#231f20" stroke="#231f20" stroke-width="0.48" stroke-linejoin="round" textLength="219.5" lengthAdjust="spacingAndGlyphs" x="1297.30" y="1515.00">sampled at 5 stages</text>
<text font-size="23.1" font-weight="bold" text-anchor="middle" fill="#231f20" stroke="#231f20" stroke-width="0.48" stroke-linejoin="round" textLength="111.3" lengthAdjust="spacingAndGlyphs" x="1297.30" y="1538.60">(E14.5-P0)</text>
<text font-size="23.1" font-weight="bold" text-anchor="middle" fill="#231f20" stroke="#231f20" stroke-width="0.48" stroke-linejoin="round" textLength="219.3" lengthAdjust="spacingAndGlyphs" x="1529.00" y="1515.00">sampled at 4 stages</text>
<text font-size="23.1" font-weight="bold" text-anchor="middle" fill="#231f20" stroke="#231f20" stroke-width="0.48" stroke-linejoin="round" textLength="143.2" lengthAdjust="spacingAndGlyphs" x="1529.00" y="1538.60">(E11.5-E15.5)</text>
<rect x="1652.70" y="1126.30" width="33.20" height="33.10" fill="#000000" stroke="#231f20" stroke-width="1.9"/>
<rect x="1652.70" y="1159.40" width="33.20" height="33.10" fill="#58595b" stroke="#231f20" stroke-width="1.9"/>
<rect x="1652.70" y="1192.50" width="33.20" height="33.10" fill="#808285" stroke="#231f20" stroke-width="1.9"/>
<rect x="1652.70" y="1225.60" width="33.20" height="33.10" fill="#a7a9ac" stroke="#231f20" stroke-width="1.9"/>
<rect x="1652.70" y="1258.70" width="33.20" height="33.10" fill="#d1d3d4" stroke="#231f20" stroke-width="1.9"/>
<rect x="1652.70" y="1291.80" width="33.20" height="33.10" fill="#ffffff" stroke="#231f20" stroke-width="1.9"/>
<text font-size="19.7" font-weight="bold" text-anchor="start" fill="#231f20" stroke="#231f20" stroke-width="0.41" stroke-linejoin="round" x="1692.60" y="1149.90">E16.5</text>
<polygon points="1751.9,1132.9 1768.3,1141.4 1751.9,1149.9" fill="#231f20"/>
<text font-size="19.7" font-weight="bold" text-anchor="start" fill="#231f20" stroke="#231f20" stroke-width="0.41" stroke-linejoin="round" x="1776.30" y="1149.90">P0</text>
<text font-size="19.7" font-weight="bold" text-anchor="start" fill="#231f20" stroke="#231f20" stroke-width="0.41" stroke-linejoin="round" x="1692.60" y="1182.95">E15.5</text>
<polygon points="1751.9,1166.0 1768.3,1174.5 1751.9,1183.0" fill="#231f20"/>
<text font-size="19.7" font-weight="bold" text-anchor="start" fill="#231f20" stroke="#231f20" stroke-width="0.41" stroke-linejoin="round" x="1776.30" y="1182.95">E16.5</text>
<text font-size="19.7" font-weight="bold" text-anchor="start" fill="#231f20" stroke="#231f20" stroke-width="0.41" stroke-linejoin="round" x="1692.60" y="1216.00">E14.5</text>
<polygon points="1751.9,1199.0 1768.3,1207.5 1751.9,1216.0" fill="#231f20"/>
<text font-size="19.7" font-weight="bold" text-anchor="start" fill="#231f20" stroke="#231f20" stroke-width="0.41" stroke-linejoin="round" x="1776.30" y="1216.00">E15.5</text>
<text font-size="19.7" font-weight="bold" text-anchor="start" fill="#231f20" stroke="#231f20" stroke-width="0.41" stroke-linejoin="round" x="1692.60" y="1249.05">E13.5</text>
<polygon points="1751.9,1232.1 1768.3,1240.6 1751.9,1249.1" fill="#231f20"/>
<text font-size="19.7" font-weight="bold" text-anchor="start" fill="#231f20" stroke="#231f20" stroke-width="0.41" stroke-linejoin="round" x="1776.30" y="1249.05">E14.5</text>
<text font-size="19.7" font-weight="bold" text-anchor="start" fill="#231f20" stroke="#231f20" stroke-width="0.41" stroke-linejoin="round" x="1692.60" y="1282.10">E12.5</text>
<polygon points="1751.9,1265.1 1768.3,1273.6 1751.9,1282.1" fill="#231f20"/>
<text font-size="19.7" font-weight="bold" text-anchor="start" fill="#231f20" stroke="#231f20" stroke-width="0.41" stroke-linejoin="round" x="1776.30" y="1282.10">E13.5</text>
<text font-size="19.7" font-weight="bold" text-anchor="start" fill="#231f20" stroke="#231f20" stroke-width="0.41" stroke-linejoin="round" x="1692.60" y="1315.15">E11.5</text>
<polygon points="1751.9,1298.2 1768.3,1306.7 1751.9,1315.2" fill="#231f20"/>
<text font-size="19.7" font-weight="bold" text-anchor="start" fill="#231f20" stroke="#231f20" stroke-width="0.41" stroke-linejoin="round" x="1776.30" y="1315.15">E12.5</text>
<text font-size="19.7" font-weight="bold" text-anchor="start" fill="#231f20" stroke="#231f20" stroke-width="0.41" stroke-linejoin="round" x="1653.20" y="1111.50">stage transition</text>
</g>
<g id="panel-f">
<rect x="150.20" y="1620.60" width="46.91" height="46.89" fill="#4393c3"/>
<rect x="196.51" y="1620.60" width="46.91" height="46.89" fill="#195695"/>
<rect x="242.83" y="1620.60" width="46.91" height="46.89" fill="#3c8abe"/>
<rect x="289.14" y="1620.60" width="46.91" height="46.89" fill="#16508e"/>
<rect x="335.45" y="1620.60" width="46.91" height="46.89" fill="#cf5246"/>
<rect x="381.77" y="1620.60" width="46.91" height="46.89" fill="#c4dfec"/>
<rect x="428.08" y="1620.60" width="46.91" height="46.89" fill="#dc6e58"/>
<rect x="474.39" y="1620.60" width="46.91" height="46.89" fill="#ffffff"/>
<rect x="520.71" y="1620.60" width="46.91" height="46.89" fill="#dceaf2"/>
<rect x="567.02" y="1620.60" width="46.91" height="46.89" fill="#ffffff"/>
<rect x="613.33" y="1620.60" width="46.91" height="46.89" fill="#f7f7f7"/>
<rect x="659.65" y="1620.60" width="46.91" height="46.89" fill="#dceaf2"/>
<rect x="705.96" y="1620.60" width="46.91" height="46.89" fill="#ffffff"/>
<rect x="752.27" y="1620.60" width="46.91" height="46.89" fill="#ffffff"/>
<rect x="798.59" y="1620.60" width="46.91" height="46.89" fill="#ffffff"/>
<rect x="150.20" y="1666.89" width="46.91" height="46.89" fill="#a5cfe3"/>
<rect x="196.51" y="1666.89" width="46.91" height="46.89" fill="#5ba2cb"/>
<rect x="242.83" y="1666.89" width="46.91" height="46.89" fill="#3c8abe"/>
<rect x="289.14" y="1666.89" width="46.91" height="46.89" fill="#3985bc"/>
<rect x="335.45" y="1666.89" width="46.91" height="46.89" fill="#f8c0a4"/>
<rect x="381.77" y="1666.89" width="46.91" height="46.89" fill="#f3f5f6"/>
<rect x="428.08" y="1666.89" width="46.91" height="46.89" fill="#c43c3c"/>
<rect x="474.39" y="1666.89" width="46.91" height="46.89" fill="#ffffff"/>
<rect x="520.71" y="1666.89" width="46.91" height="46.89" fill="#d1e5f0"/>
<rect x="567.02" y="1666.89" width="46.91" height="46.89" fill="#ffffff"/>
<rect x="613.33" y="1666.89" width="46.91" height="46.89" fill="#d1e5f0"/>
<rect x="659.65" y="1666.89" width="46.91" height="46.89" fill="#63a7ce"/>
<rect x="705.96" y="1666.89" width="46.91" height="46.89" fill="#ffffff"/>
<rect x="752.27" y="1666.89" width="46.91" height="46.89" fill="#ffffff"/>
<rect x="798.59" y="1666.89" width="46.91" height="46.89" fill="#cbe2ee"/>
<rect x="150.20" y="1713.17" width="46.91" height="46.89" fill="#f19e7d"/>
<rect x="196.51" y="1713.17" width="46.91" height="46.89" fill="#f7f7f7"/>
<rect x="242.83" y="1713.17" width="46.91" height="46.89" fill="#c4dfec"/>
<rect x="289.14" y="1713.17" width="46.91" height="46.89" fill="#d9e9f1"/>
<rect x="335.45" y="1713.17" width="46.91" height="46.89" fill="#f19e7d"/>
<rect x="381.77" y="1713.17" width="46.91" height="46.89" fill="#f4a582"/>
<rect x="428.08" y="1713.17" width="46.91" height="46.89" fill="#e8896d"/>
<rect x="474.39" y="1713.17" width="46.91" height="46.89" fill="#9fcbe2"/>
<rect x="520.71" y="1713.17" width="46.91" height="46.89" fill="#f7f7f7"/>
<rect x="567.02" y="1713.17" width="46.91" height="46.89" fill="#ffffff"/>
<rect x="613.33" y="1713.17" width="46.91" height="46.89" fill="#c4dfec"/>
<rect x="659.65" y="1713.17" width="46.91" height="46.89" fill="#d5e7f1"/>
<rect x="705.96" y="1713.17" width="46.91" height="46.89" fill="#6aacd0"/>
<rect x="752.27" y="1713.17" width="46.91" height="46.89" fill="#f9c5ab"/>
<rect x="798.59" y="1713.17" width="46.91" height="46.89" fill="#82bbd9"/>
<rect x="150.20" y="1759.46" width="46.91" height="46.89" fill="#ecf2f5"/>
<rect x="196.51" y="1759.46" width="46.91" height="46.89" fill="#bedbeb"/>
<rect x="242.83" y="1759.46" width="46.91" height="46.89" fill="#408fc1"/>
<rect x="289.14" y="1759.46" width="46.91" height="46.89" fill="#63a7ce"/>
<rect x="335.45" y="1759.46" width="46.91" height="46.89" fill="#f6b090"/>
<rect x="381.77" y="1759.46" width="46.91" height="46.89" fill="#f9ece4"/>
<rect x="428.08" y="1759.46" width="46.91" height="46.89" fill="#b61f2e"/>
<rect x="474.39" y="1759.46" width="46.91" height="46.89" fill="#f9efe9"/>
<rect x="520.71" y="1759.46" width="46.91" height="46.89" fill="#eff3f6"/>
<rect x="567.02" y="1759.46" width="46.91" height="46.89" fill="#ffffff"/>
<rect x="613.33" y="1759.46" width="46.91" height="46.89" fill="#dceaf2"/>
<rect x="659.65" y="1759.46" width="46.91" height="46.89" fill="#b2d5e7"/>
<rect x="705.96" y="1759.46" width="46.91" height="46.89" fill="#d1e5f0"/>
<rect x="752.27" y="1759.46" width="46.91" height="46.89" fill="#ffffff"/>
<rect x="798.59" y="1759.46" width="46.91" height="46.89" fill="#f7f7f7"/>
<rect x="150.20" y="1805.75" width="46.91" height="46.89" fill="#9c1127"/>
<rect x="196.51" y="1805.75" width="46.91" height="46.89" fill="#f8bb9e"/>
<rect x="242.83" y="1805.75" width="46.91" height="46.89" fill="#92c5de"/>
<rect x="289.14" y="1805.75" width="46.91" height="46.89" fill="#abd2e5"/>
<rect x="335.45" y="1805.75" width="46.91" height="46.89" fill="#fddbc7"/>
<rect x="381.77" y="1805.75" width="46.91" height="46.89" fill="#f7b597"/>
<rect x="428.08" y="1805.75" width="46.91" height="46.89" fill="#e27c62"/>
<rect x="474.39" y="1805.75" width="46.91" height="46.89" fill="#d1e5f0"/>
<rect x="520.71" y="1805.75" width="46.91" height="46.89" fill="#fce1d1"/>
<rect x="567.02" y="1805.75" width="46.91" height="46.89" fill="#fce1d1"/>
<rect x="613.33" y="1805.75" width="46.91" height="46.89" fill="#f8f4f2"/>
<rect x="659.65" y="1805.75" width="46.91" height="46.89" fill="#a5cfe3"/>
<rect x="705.96" y="1805.75" width="46.91" height="46.89" fill="#63a7ce"/>
<rect x="752.27" y="1805.75" width="46.91" height="46.89" fill="#a5cfe3"/>
<rect x="798.59" y="1805.75" width="46.91" height="46.89" fill="#f7f7f7"/>
<rect x="150.20" y="1852.03" width="46.91" height="46.89" fill="#f8f1ed"/>
<rect x="196.51" y="1852.03" width="46.91" height="46.89" fill="#d1e5f0"/>
<rect x="242.83" y="1852.03" width="46.91" height="46.89" fill="#72b1d3"/>
<rect x="289.14" y="1852.03" width="46.91" height="46.89" fill="#4b98c6"/>
<rect x="335.45" y="1852.03" width="46.91" height="46.89" fill="#fcdecc"/>
<rect x="381.77" y="1852.03" width="46.91" height="46.89" fill="#f9efe9"/>
<rect x="428.08" y="1852.03" width="46.91" height="46.89" fill="#e58268"/>
<rect x="474.39" y="1852.03" width="46.91" height="46.89" fill="#8ac0db"/>
<rect x="520.71" y="1852.03" width="46.91" height="46.89" fill="#f8f1ed"/>
<rect x="567.02" y="1852.03" width="46.91" height="46.89" fill="#ffffff"/>
<rect x="613.33" y="1852.03" width="46.91" height="46.89" fill="#d1e5f0"/>
<rect x="659.65" y="1852.03" width="46.91" height="46.89" fill="#5ba2cb"/>
<rect x="705.96" y="1852.03" width="46.91" height="46.89" fill="#ffffff"/>
<rect x="752.27" y="1852.03" width="46.91" height="46.89" fill="#e58268"/>
<rect x="798.59" y="1852.03" width="46.91" height="46.89" fill="#ffffff"/>
<rect x="150.20" y="1898.32" width="46.91" height="46.89" fill="#b92632"/>
<rect x="196.51" y="1898.32" width="46.91" height="46.89" fill="#ee9777"/>
<rect x="242.83" y="1898.32" width="46.91" height="46.89" fill="#ffffff"/>
<rect x="289.14" y="1898.32" width="46.91" height="46.89" fill="#ffffff"/>
<rect x="335.45" y="1898.32" width="46.91" height="46.89" fill="#f4a582"/>
<rect x="381.77" y="1898.32" width="46.91" height="46.89" fill="#d2594a"/>
<rect x="428.08" y="1898.32" width="46.91" height="46.89" fill="#d96752"/>
<rect x="474.39" y="1898.32" width="46.91" height="46.89" fill="#f3f5f6"/>
<rect x="520.71" y="1898.32" width="46.91" height="46.89" fill="#f7b597"/>
<rect x="567.02" y="1898.32" width="46.91" height="46.89" fill="#f7b597"/>
<rect x="613.33" y="1898.32" width="46.91" height="46.89" fill="#fcdecc"/>
<rect x="659.65" y="1898.32" width="46.91" height="46.89" fill="#f7f7f7"/>
<rect x="705.96" y="1898.32" width="46.91" height="46.89" fill="#d1e5f0"/>
<rect x="752.27" y="1898.32" width="46.91" height="46.89" fill="#d9e9f1"/>
<rect x="798.59" y="1898.32" width="46.91" height="46.89" fill="#fce1d1"/>
<rect x="150.20" y="1944.61" width="46.91" height="46.89" fill="#67001f"/>
<rect x="196.51" y="1944.61" width="46.91" height="46.89" fill="#cb4a43"/>
<rect x="242.83" y="1944.61" width="46.91" height="46.89" fill="#dceaf2"/>
<rect x="289.14" y="1944.61" width="46.91" height="46.89" fill="#fddbc7"/>
<rect x="335.45" y="1944.61" width="46.91" height="46.89" fill="#f4a582"/>
<rect x="381.77" y="1944.61" width="46.91" height="46.89" fill="#b2182b"/>
<rect x="428.08" y="1944.61" width="46.91" height="46.89" fill="#d6604d"/>
<rect x="474.39" y="1944.61" width="46.91" height="46.89" fill="#ecf2f5"/>
<rect x="520.71" y="1944.61" width="46.91" height="46.89" fill="#f7b597"/>
<rect x="567.02" y="1944.61" width="46.91" height="46.89" fill="#fcdecc"/>
<rect x="613.33" y="1944.61" width="46.91" height="46.89" fill="#f7f7f7"/>
<rect x="659.65" y="1944.61" width="46.91" height="46.89" fill="#f7f6f5"/>
<rect x="705.96" y="1944.61" width="46.91" height="46.89" fill="#b8d8e9"/>
<rect x="752.27" y="1944.61" width="46.91" height="46.89" fill="#d9e9f1"/>
<rect x="798.59" y="1944.61" width="46.91" height="46.89" fill="#fae9df"/>
<rect x="150.20" y="1990.89" width="46.91" height="46.89" fill="#f19e7d"/>
<rect x="196.51" y="1990.89" width="46.91" height="46.89" fill="#dceaf2"/>
<rect x="242.83" y="1990.89" width="46.91" height="46.89" fill="#d1e5f0"/>
<rect x="289.14" y="1990.89" width="46.91" height="46.89" fill="#a5cfe3"/>
<rect x="335.45" y="1990.89" width="46.91" height="46.89" fill="#f8c0a4"/>
<rect x="381.77" y="1990.89" width="46.91" height="46.89" fill="#f8bb9e"/>
<rect x="428.08" y="1990.89" width="46.91" height="46.89" fill="#e27c62"/>
<rect x="474.39" y="1990.89" width="46.91" height="46.89" fill="#e4eef4"/>
<rect x="520.71" y="1990.89" width="46.91" height="46.89" fill="#eff3f6"/>
<rect x="567.02" y="1990.89" width="46.91" height="46.89" fill="#f8f4f2"/>
<rect x="613.33" y="1990.89" width="46.91" height="46.89" fill="#d5e7f1"/>
<rect x="659.65" y="1990.89" width="46.91" height="46.89" fill="#b2d5e7"/>
<rect x="705.96" y="1990.89" width="46.91" height="46.89" fill="#82bbd9"/>
<rect x="752.27" y="1990.89" width="46.91" height="46.89" fill="#f8f4f2"/>
<rect x="798.59" y="1990.89" width="46.91" height="46.89" fill="#dceaf2"/>
<rect x="150.20" y="2037.18" width="46.91" height="46.89" fill="#8c0c25"/>
<rect x="196.51" y="2037.18" width="46.91" height="46.89" fill="#f19e7d"/>
<rect x="242.83" y="2037.18" width="46.91" height="46.89" fill="#ffffff"/>
<rect x="289.14" y="2037.18" width="46.91" height="46.89" fill="#ffffff"/>
<rect x="335.45" y="2037.18" width="46.91" height="46.89" fill="#d96752"/>
<rect x="381.77" y="2037.18" width="46.91" height="46.89" fill="#8c0c25"/>
<rect x="428.08" y="2037.18" width="46.91" height="46.89" fill="#b2182b"/>
<rect x="474.39" y="2037.18" width="46.91" height="46.89" fill="#fbe3d5"/>
<rect x="520.71" y="2037.18" width="46.91" height="46.89" fill="#d96752"/>
<rect x="567.02" y="2037.18" width="46.91" height="46.89" fill="#d5e7f1"/>
<rect x="613.33" y="2037.18" width="46.91" height="46.89" fill="#e8f0f4"/>
<rect x="659.65" y="2037.18" width="46.91" height="46.89" fill="#fce1d1"/>
<rect x="705.96" y="2037.18" width="46.91" height="46.89" fill="#8ac0db"/>
<rect x="752.27" y="2037.18" width="46.91" height="46.89" fill="#e8f0f4"/>
<rect x="798.59" y="2037.18" width="46.91" height="46.89" fill="#ecf2f5"/>
<rect x="150.20" y="2083.47" width="46.91" height="46.89" fill="#67001f"/>
<rect x="196.51" y="2083.47" width="46.91" height="46.89" fill="#fddbc7"/>
<rect x="242.83" y="2083.47" width="46.91" height="46.89" fill="#eff3f6"/>
<rect x="289.14" y="2083.47" width="46.91" height="46.89" fill="#fddbc7"/>
<rect x="335.45" y="2083.47" width="46.91" height="46.89" fill="#d2594a"/>
<rect x="381.77" y="2083.47" width="46.91" height="46.89" fill="#b2182b"/>
<rect x="428.08" y="2083.47" width="46.91" height="46.89" fill="#c8433f"/>
<rect x="474.39" y="2083.47" width="46.91" height="46.89" fill="#fbe6da"/>
<rect x="520.71" y="2083.47" width="46.91" height="46.89" fill="#facbb2"/>
<rect x="567.02" y="2083.47" width="46.91" height="46.89" fill="#e0ecf3"/>
<rect x="613.33" y="2083.47" width="46.91" height="46.89" fill="#d1e5f0"/>
<rect x="659.65" y="2083.47" width="46.91" height="46.89" fill="#fbe6da"/>
<rect x="705.96" y="2083.47" width="46.91" height="46.89" fill="#8ac0db"/>
<rect x="752.27" y="2083.47" width="46.91" height="46.89" fill="#8ac0db"/>
<rect x="798.59" y="2083.47" width="46.91" height="46.89" fill="#d5e7f1"/>
<rect x="150.20" y="2129.75" width="46.91" height="46.89" fill="#b92632"/>
<rect x="196.51" y="2129.75" width="46.91" height="46.89" fill="#f9ece4"/>
<rect x="242.83" y="2129.75" width="46.91" height="46.89" fill="#a5cfe3"/>
<rect x="289.14" y="2129.75" width="46.91" height="46.89" fill="#cbe2ee"/>
<rect x="335.45" y="2129.75" width="46.91" height="46.89" fill="#fbd0b9"/>
<rect x="381.77" y="2129.75" width="46.91" height="46.89" fill="#f5aa89"/>
<rect x="428.08" y="2129.75" width="46.91" height="46.89" fill="#d6604d"/>
<rect x="474.39" y="2129.75" width="46.91" height="46.89" fill="#c4dfec"/>
<rect x="520.71" y="2129.75" width="46.91" height="46.89" fill="#f9ece4"/>
<rect x="567.02" y="2129.75" width="46.91" height="46.89" fill="#eff3f6"/>
<rect x="613.33" y="2129.75" width="46.91" height="46.89" fill="#e0ecf3"/>
<rect x="659.65" y="2129.75" width="46.91" height="46.89" fill="#bedbeb"/>
<rect x="705.96" y="2129.75" width="46.91" height="46.89" fill="#82bbd9"/>
<rect x="752.27" y="2129.75" width="46.91" height="46.89" fill="#fae9df"/>
<rect x="798.59" y="2129.75" width="46.91" height="46.89" fill="#f3f5f6"/>
<rect x="150.20" y="2176.04" width="46.91" height="46.89" fill="#67001f"/>
<rect x="196.51" y="2176.04" width="46.91" height="46.89" fill="#e8896d"/>
<rect x="242.83" y="2176.04" width="46.91" height="46.89" fill="#f8f1ed"/>
<rect x="289.14" y="2176.04" width="46.91" height="46.89" fill="#f6b090"/>
<rect x="335.45" y="2176.04" width="46.91" height="46.89" fill="#d2594a"/>
<rect x="381.77" y="2176.04" width="46.91" height="46.89" fill="#7e0723"/>
<rect x="428.08" y="2176.04" width="46.91" height="46.89" fill="#b92632"/>
<rect x="474.39" y="2176.04" width="46.91" height="46.89" fill="#fce1d1"/>
<rect x="520.71" y="2176.04" width="46.91" height="46.89" fill="#fcd6c0"/>
<rect x="567.02" y="2176.04" width="46.91" height="46.89" fill="#8ac0db"/>
<rect x="613.33" y="2176.04" width="46.91" height="46.89" fill="#bedbeb"/>
<rect x="659.65" y="2176.04" width="46.91" height="46.89" fill="#fbe3d5"/>
<rect x="705.96" y="2176.04" width="46.91" height="46.89" fill="#98c8e0"/>
<rect x="752.27" y="2176.04" width="46.91" height="46.89" fill="#e4eef4"/>
<rect x="798.59" y="2176.04" width="46.91" height="46.89" fill="#abd2e5"/>
<rect x="150.20" y="2222.33" width="46.91" height="46.89" fill="#67001f"/>
<rect x="196.51" y="2222.33" width="46.91" height="46.89" fill="#df755d"/>
<rect x="242.83" y="2222.33" width="46.91" height="46.89" fill="#d2594a"/>
<rect x="289.14" y="2222.33" width="46.91" height="46.89" fill="#ffffff"/>
<rect x="335.45" y="2222.33" width="46.91" height="46.89" fill="#cb4a43"/>
<rect x="381.77" y="2222.33" width="46.91" height="46.89" fill="#aa162a"/>
<rect x="428.08" y="2222.33" width="46.91" height="46.89" fill="#b2182b"/>
<rect x="474.39" y="2222.33" width="46.91" height="46.89" fill="#fcd6c0"/>
<rect x="520.71" y="2222.33" width="46.91" height="46.89" fill="#f19e7d"/>
<rect x="567.02" y="2222.33" width="46.91" height="46.89" fill="#f8f4f2"/>
<rect x="613.33" y="2222.33" width="46.91" height="46.89" fill="#f7f7f7"/>
<rect x="659.65" y="2222.33" width="46.91" height="46.89" fill="#eb9072"/>
<rect x="705.96" y="2222.33" width="46.91" height="46.89" fill="#98c8e0"/>
<rect x="752.27" y="2222.33" width="46.91" height="46.89" fill="#fae9df"/>
<rect x="798.59" y="2222.33" width="46.91" height="46.89" fill="#b8d8e9"/>
<rect x="150.20" y="2268.61" width="46.91" height="46.89" fill="#67001f"/>
<rect x="196.51" y="2268.61" width="46.91" height="46.89" fill="#f6b090"/>
<rect x="242.83" y="2268.61" width="46.91" height="46.89" fill="#f3f5f6"/>
<rect x="289.14" y="2268.61" width="46.91" height="46.89" fill="#fddbc7"/>
<rect x="335.45" y="2268.61" width="46.91" height="46.89" fill="#d2594a"/>
<rect x="381.77" y="2268.61" width="46.91" height="46.89" fill="#a31329"/>
<rect x="428.08" y="2268.61" width="46.91" height="46.89" fill="#bd2e35"/>
<rect x="474.39" y="2268.61" width="46.91" height="46.89" fill="#fcd6c0"/>
<rect x="520.71" y="2268.61" width="46.91" height="46.89" fill="#facbb2"/>
<rect x="567.02" y="2268.61" width="46.91" height="46.89" fill="#e4eef4"/>
<rect x="613.33" y="2268.61" width="46.91" height="46.89" fill="#d9e9f1"/>
<rect x="659.65" y="2268.61" width="46.91" height="46.89" fill="#fbd0b9"/>
<rect x="705.96" y="2268.61" width="46.91" height="46.89" fill="#7ab6d6"/>
<rect x="752.27" y="2268.61" width="46.91" height="46.89" fill="#92c5de"/>
<rect x="798.59" y="2268.61" width="46.91" height="46.89" fill="#b8d8e9"/>
<g stroke-opacity="0.5">
<line x1="196.81" y1="1620.90" x2="196.81" y2="2315.20" stroke="#2b2b2d" stroke-width="1.5"/>
<line x1="150.50" y1="1667.19" x2="845.20" y2="1667.19" stroke="#2b2b2d" stroke-width="1.5"/>
<line x1="243.13" y1="1620.90" x2="243.13" y2="2315.20" stroke="#2b2b2d" stroke-width="1.5"/>
<line x1="150.50" y1="1713.47" x2="845.20" y2="1713.47" stroke="#2b2b2d" stroke-width="1.5"/>
<line x1="289.44" y1="1620.90" x2="289.44" y2="2315.20" stroke="#2b2b2d" stroke-width="1.5"/>
<line x1="150.50" y1="1759.76" x2="845.20" y2="1759.76" stroke="#2b2b2d" stroke-width="1.5"/>
<line x1="382.07" y1="1620.90" x2="382.07" y2="2315.20" stroke="#2b2b2d" stroke-width="1.5"/>
<line x1="150.50" y1="1852.33" x2="845.20" y2="1852.33" stroke="#2b2b2d" stroke-width="1.5"/>
<line x1="428.38" y1="1620.90" x2="428.38" y2="2315.20" stroke="#2b2b2d" stroke-width="1.5"/>
<line x1="150.50" y1="1898.62" x2="845.20" y2="1898.62" stroke="#2b2b2d" stroke-width="1.5"/>
<line x1="474.69" y1="1620.90" x2="474.69" y2="2315.20" stroke="#2b2b2d" stroke-width="1.5"/>
<line x1="150.50" y1="1944.91" x2="845.20" y2="1944.91" stroke="#2b2b2d" stroke-width="1.5"/>
<line x1="521.01" y1="1620.90" x2="521.01" y2="2315.20" stroke="#2b2b2d" stroke-width="1.5"/>
<line x1="150.50" y1="1991.19" x2="845.20" y2="1991.19" stroke="#2b2b2d" stroke-width="1.5"/>
<line x1="613.63" y1="1620.90" x2="613.63" y2="2315.20" stroke="#2b2b2d" stroke-width="1.5"/>
<line x1="150.50" y1="2083.77" x2="845.20" y2="2083.77" stroke="#2b2b2d" stroke-width="1.5"/>
<line x1="659.95" y1="1620.90" x2="659.95" y2="2315.20" stroke="#2b2b2d" stroke-width="1.5"/>
<line x1="150.50" y1="2130.05" x2="845.20" y2="2130.05" stroke="#2b2b2d" stroke-width="1.5"/>
<line x1="752.57" y1="1620.90" x2="752.57" y2="2315.20" stroke="#2b2b2d" stroke-width="1.5"/>
<line x1="150.50" y1="2222.63" x2="845.20" y2="2222.63" stroke="#2b2b2d" stroke-width="1.5"/>
</g>
<line x1="335.75" y1="1620.90" x2="335.75" y2="2315.20" stroke="#414042" stroke-width="3.9"/>
<line x1="150.50" y1="1806.05" x2="845.20" y2="1806.05" stroke="#414042" stroke-width="3.9"/>
<line x1="567.32" y1="1620.90" x2="567.32" y2="2315.20" stroke="#414042" stroke-width="3.9"/>
<line x1="150.50" y1="2037.48" x2="845.20" y2="2037.48" stroke="#414042" stroke-width="3.9"/>
<line x1="706.26" y1="1620.90" x2="706.26" y2="2315.20" stroke="#414042" stroke-width="3.9"/>
<line x1="150.50" y1="2176.34" x2="845.20" y2="2176.34" stroke="#414042" stroke-width="3.9"/>
<line x1="798.89" y1="1620.90" x2="798.89" y2="2315.20" stroke="#414042" stroke-width="3.9"/>
<line x1="150.50" y1="2268.91" x2="845.20" y2="2268.91" stroke="#414042" stroke-width="3.9"/>
<rect x="150.50" y="1620.90" width="694.70" height="694.30" fill="none" stroke="#4a4a4c" stroke-width="4.8"/>
<text font-size="26.5" font-weight="bold" text-anchor="end" fill="#231f20" stroke="#231f20" stroke-width="0.55" stroke-linejoin="round" x="136.80" y="1654.34">Pr-A</text>
<text font-size="26.6" font-weight="bold" text-anchor="end" fill="#231f20" stroke="#231f20" stroke-width="0.56" stroke-linejoin="round" transform="translate(178.50,2329.20) rotate(-90)">Pr-A</text>
<text font-size="26.5" font-weight="bold" text-anchor="end" fill="#231f20" stroke="#231f20" stroke-width="0.55" stroke-linejoin="round" x="136.80" y="1700.63">Pr-W</text>
<text font-size="26.6" font-weight="bold" text-anchor="end" fill="#231f20" stroke="#231f20" stroke-width="0.56" stroke-linejoin="round" transform="translate(225.00,2329.20) rotate(-90)">Pr-W</text>
<text font-size="26.5" font-weight="bold" text-anchor="end" fill="#231f20" stroke="#231f20" stroke-width="0.55" stroke-linejoin="round" x="136.80" y="1746.92">Pr-B</text>
<text font-size="26.6" font-weight="bold" text-anchor="end" fill="#231f20" stroke="#231f20" stroke-width="0.56" stroke-linejoin="round" transform="translate(271.50,2329.20) rotate(-90)">Pr-B</text>
<text font-size="26.5" font-weight="bold" text-anchor="end" fill="#231f20" stroke="#231f20" stroke-width="0.55" stroke-linejoin="round" x="136.80" y="1793.20">Pr-F</text>
<text font-size="26.6" font-weight="bold" text-anchor="end" fill="#231f20" stroke="#231f20" stroke-width="0.56" stroke-linejoin="round" transform="translate(318.00,2329.20) rotate(-90)">Pr-F</text>
<text font-size="26.5" font-weight="bold" text-anchor="end" fill="#231f20" stroke="#231f20" stroke-width="0.55" stroke-linejoin="round" x="136.80" y="1839.49">En-Sd</text>
<text font-size="26.6" font-weight="bold" text-anchor="end" fill="#231f20" stroke="#231f20" stroke-width="0.56" stroke-linejoin="round" transform="translate(364.50,2329.20) rotate(-90)">En-Sd</text>
<text font-size="26.5" font-weight="bold" text-anchor="end" fill="#231f20" stroke="#231f20" stroke-width="0.55" stroke-linejoin="round" x="136.80" y="1885.78">En-Sp</text>
<text font-size="26.6" font-weight="bold" text-anchor="end" fill="#231f20" stroke="#231f20" stroke-width="0.56" stroke-linejoin="round" transform="translate(411.00,2329.20) rotate(-90)">En-Sp</text>
<text font-size="26.5" font-weight="bold" text-anchor="end" fill="#231f20" stroke="#231f20" stroke-width="0.55" stroke-linejoin="round" x="136.80" y="1932.06">En-W</text>
<text font-size="26.6" font-weight="bold" text-anchor="end" fill="#231f20" stroke="#231f20" stroke-width="0.56" stroke-linejoin="round" transform="translate(457.50,2329.20) rotate(-90)">En-W</text>
<text font-size="26.5" font-weight="bold" text-anchor="end" fill="#231f20" stroke="#231f20" stroke-width="0.55" stroke-linejoin="round" x="136.80" y="1978.35">En-Pd</text>
<text font-size="26.6" font-weight="bold" text-anchor="end" fill="#231f20" stroke="#231f20" stroke-width="0.56" stroke-linejoin="round" transform="translate(504.00,2329.20) rotate(-90)">En-Pd</text>
<text font-size="26.5" font-weight="bold" text-anchor="end" fill="#231f20" stroke="#231f20" stroke-width="0.55" stroke-linejoin="round" x="136.80" y="2024.64">En-Pp</text>
<text font-size="26.6" font-weight="bold" text-anchor="end" fill="#231f20" stroke="#231f20" stroke-width="0.56" stroke-linejoin="round" transform="translate(550.50,2329.20) rotate(-90)">En-Pp</text>
<text font-size="26.5" font-weight="bold" text-anchor="end" fill="#231f20" stroke="#231f20" stroke-width="0.55" stroke-linejoin="round" x="136.80" y="2070.92">Tr-S</text>
<text font-size="26.6" font-weight="bold" text-anchor="end" fill="#231f20" stroke="#231f20" stroke-width="0.56" stroke-linejoin="round" transform="translate(597.00,2329.20) rotate(-90)">Tr-S</text>
<text font-size="26.5" font-weight="bold" text-anchor="end" fill="#231f20" stroke="#231f20" stroke-width="0.55" stroke-linejoin="round" x="136.80" y="2117.21">Tr-P</text>
<text font-size="26.6" font-weight="bold" text-anchor="end" fill="#231f20" stroke="#231f20" stroke-width="0.56" stroke-linejoin="round" transform="translate(643.50,2329.20) rotate(-90)">Tr-P</text>
<text font-size="26.5" font-weight="bold" text-anchor="end" fill="#231f20" stroke="#231f20" stroke-width="0.55" stroke-linejoin="round" x="136.80" y="2163.50">Tr-I</text>
<text font-size="26.6" font-weight="bold" text-anchor="end" fill="#231f20" stroke="#231f20" stroke-width="0.56" stroke-linejoin="round" transform="translate(690.00,2329.20) rotate(-90)">Tr-I</text>
<text font-size="26.5" font-weight="bold" text-anchor="end" fill="#231f20" stroke="#231f20" stroke-width="0.55" stroke-linejoin="round" x="136.80" y="2209.78">Hc-P</text>
<text font-size="26.6" font-weight="bold" text-anchor="end" fill="#231f20" stroke="#231f20" stroke-width="0.56" stroke-linejoin="round" transform="translate(736.50,2329.20) rotate(-90)">Hc-P</text>
<text font-size="26.5" font-weight="bold" text-anchor="end" fill="#231f20" stroke="#231f20" stroke-width="0.55" stroke-linejoin="round" x="136.80" y="2256.07">Hc-H</text>
<text font-size="26.6" font-weight="bold" text-anchor="end" fill="#231f20" stroke="#231f20" stroke-width="0.56" stroke-linejoin="round" transform="translate(783.00,2329.20) rotate(-90)">Hc-H</text>
<text font-size="26.5" font-weight="bold" text-anchor="end" fill="#231f20" stroke="#231f20" stroke-width="0.55" stroke-linejoin="round" x="136.80" y="2302.36">Ns</text>
<text font-size="26.6" font-weight="bold" text-anchor="end" fill="#231f20" stroke="#231f20" stroke-width="0.56" stroke-linejoin="round" transform="translate(829.50,2329.20) rotate(-90)">Ns</text>
<text font-size="26.2" font-weight="bold" text-anchor="middle" fill="#231f20" stroke="#231f20" stroke-width="0.55" stroke-linejoin="round" transform="translate(36.80,1968.65) rotate(-90)">stage N</text>
<text x="497.4" y="1602.7" font-size="26.3" font-weight="bold" text-anchor="middle" fill="#231f20" textLength="250" lengthAdjust="spacingAndGlyphs"><tspan font-style="italic">gain</tspan> of accessibility</text>
<text font-size="25.9" font-weight="bold" text-anchor="middle" fill="#231f20" stroke="#231f20" stroke-width="0.54" stroke-linejoin="round" textLength="125" lengthAdjust="spacingAndGlyphs" x="496.60" y="2459.40">Stage N+1</text>
</g>
<text font-size="30" font-weight="bold" text-anchor="start" fill="#000" stroke="#000" stroke-width="0.63" stroke-linejoin="round" x="-1.00" y="1591.60">f</text>
<g id="panel-g">
<rect x="1035.70" y="1620.60" width="46.88" height="46.89" fill="#7ab6d6"/>
<rect x="1081.98" y="1620.60" width="46.88" height="46.89" fill="#fcdecc"/>
<rect x="1128.26" y="1620.60" width="46.88" height="46.89" fill="#df755d"/>
<rect x="1174.54" y="1620.60" width="46.88" height="46.89" fill="#ecf2f5"/>
<rect x="1220.82" y="1620.60" width="46.88" height="46.89" fill="#f19e7d"/>
<rect x="1267.10" y="1620.60" width="46.88" height="46.89" fill="#a5cfe3"/>
<rect x="1313.38" y="1620.60" width="46.88" height="46.89" fill="#ee9777"/>
<rect x="1359.66" y="1620.60" width="46.88" height="46.89" fill="#67001f"/>
<rect x="1405.94" y="1620.60" width="46.88" height="46.89" fill="#e27c62"/>
<rect x="1452.22" y="1620.60" width="46.88" height="46.89" fill="#67001f"/>
<rect x="1498.50" y="1620.60" width="46.88" height="46.89" fill="#67001f"/>
<rect x="1544.78" y="1620.60" width="46.88" height="46.89" fill="#f7b597"/>
<rect x="1591.06" y="1620.60" width="46.88" height="46.89" fill="#bd2e35"/>
<rect x="1637.34" y="1620.60" width="46.88" height="46.89" fill="#940e26"/>
<rect x="1683.62" y="1620.60" width="46.88" height="46.89" fill="#6b0120"/>
<rect x="1035.70" y="1666.89" width="46.88" height="46.89" fill="#408fc1"/>
<rect x="1081.98" y="1666.89" width="46.88" height="46.89" fill="#e4eef4"/>
<rect x="1128.26" y="1666.89" width="46.88" height="46.89" fill="#fddbc7"/>
<rect x="1174.54" y="1666.89" width="46.88" height="46.89" fill="#c4dfec"/>
<rect x="1220.82" y="1666.89" width="46.88" height="46.89" fill="#fbd0b9"/>
<rect x="1267.10" y="1666.89" width="46.88" height="46.89" fill="#72b1d3"/>
<rect x="1313.38" y="1666.89" width="46.88" height="46.89" fill="#fcdecc"/>
<rect x="1359.66" y="1666.89" width="46.88" height="46.89" fill="#f9c5ab"/>
<rect x="1405.94" y="1666.89" width="46.88" height="46.89" fill="#fcd6c0"/>
<rect x="1452.22" y="1666.89" width="46.88" height="46.89" fill="#850a24"/>
<rect x="1498.50" y="1666.89" width="46.88" height="46.89" fill="#f19e7d"/>
<rect x="1544.78" y="1666.89" width="46.88" height="46.89" fill="#f9ece4"/>
<rect x="1591.06" y="1666.89" width="46.88" height="46.89" fill="#e27c62"/>
<rect x="1637.34" y="1666.89" width="46.88" height="46.89" fill="#d6604d"/>
<rect x="1683.62" y="1666.89" width="46.88" height="46.89" fill="#df755d"/>
<rect x="1035.70" y="1713.17" width="46.88" height="46.89" fill="#92c5de"/>
<rect x="1081.98" y="1713.17" width="46.88" height="46.89" fill="#fae9df"/>
<rect x="1128.26" y="1713.17" width="46.88" height="46.89" fill="#f8f1ed"/>
<rect x="1174.54" y="1713.17" width="46.88" height="46.89" fill="#d1e5f0"/>
<rect x="1220.82" y="1713.17" width="46.88" height="46.89" fill="#dceaf2"/>
<rect x="1267.10" y="1713.17" width="46.88" height="46.89" fill="#bedbeb"/>
<rect x="1313.38" y="1713.17" width="46.88" height="46.89" fill="#f9ece4"/>
<rect x="1359.66" y="1713.17" width="46.88" height="46.89" fill="#fbe3d5"/>
<rect x="1405.94" y="1713.17" width="46.88" height="46.89" fill="#fcd6c0"/>
<rect x="1452.22" y="1713.17" width="46.88" height="46.89" fill="#ffffff"/>
<rect x="1498.50" y="1713.17" width="46.88" height="46.89" fill="#f5aa89"/>
<rect x="1544.78" y="1713.17" width="46.88" height="46.89" fill="#ecf2f5"/>
<rect x="1591.06" y="1713.17" width="46.88" height="46.89" fill="#fbd0b9"/>
<rect x="1637.34" y="1713.17" width="46.88" height="46.89" fill="#f9c5ab"/>
<rect x="1683.62" y="1713.17" width="46.88" height="46.89" fill="#dc6e58"/>
<rect x="1035.70" y="1759.46" width="46.88" height="46.89" fill="#539dc8"/>
<rect x="1081.98" y="1759.46" width="46.88" height="46.89" fill="#f7f7f7"/>
<rect x="1128.26" y="1759.46" width="46.88" height="46.89" fill="#fbe3d5"/>
<rect x="1174.54" y="1759.46" width="46.88" height="46.89" fill="#a5cfe3"/>
<rect x="1220.82" y="1759.46" width="46.88" height="46.89" fill="#fbe6da"/>
<rect x="1267.10" y="1759.46" width="46.88" height="46.89" fill="#72b1d3"/>
<rect x="1313.38" y="1759.46" width="46.88" height="46.89" fill="#facbb2"/>
<rect x="1359.66" y="1759.46" width="46.88" height="46.89" fill="#dc6e58"/>
<rect x="1405.94" y="1759.46" width="46.88" height="46.89" fill="#f6b090"/>
<rect x="1452.22" y="1759.46" width="46.88" height="46.89" fill="#b61f2e"/>
<rect x="1498.50" y="1759.46" width="46.88" height="46.89" fill="#d96752"/>
<rect x="1544.78" y="1759.46" width="46.88" height="46.89" fill="#fce1d1"/>
<rect x="1591.06" y="1759.46" width="46.88" height="46.89" fill="#c03539"/>
<rect x="1637.34" y="1759.46" width="46.88" height="46.89" fill="#ffffff"/>
<rect x="1683.62" y="1759.46" width="46.88" height="46.89" fill="#9c1127"/>
<rect x="1035.70" y="1805.75" width="46.88" height="46.89" fill="#fae9df"/>
<rect x="1081.98" y="1805.75" width="46.88" height="46.89" fill="#df755d"/>
<rect x="1128.26" y="1805.75" width="46.88" height="46.89" fill="#d96752"/>
<rect x="1174.54" y="1805.75" width="46.88" height="46.89" fill="#fce1d1"/>
<rect x="1220.82" y="1805.75" width="46.88" height="46.89" fill="#fbe6da"/>
<rect x="1267.10" y="1805.75" width="46.88" height="46.89" fill="#e8f0f4"/>
<rect x="1313.38" y="1805.75" width="46.88" height="46.89" fill="#e8896d"/>
<rect x="1359.66" y="1805.75" width="46.88" height="46.89" fill="#e27c62"/>
<rect x="1405.94" y="1805.75" width="46.88" height="46.89" fill="#bd2e35"/>
<rect x="1452.22" y="1805.75" width="46.88" height="46.89" fill="#d96752"/>
<rect x="1498.50" y="1805.75" width="46.88" height="46.89" fill="#aa162a"/>
<rect x="1544.78" y="1805.75" width="46.88" height="46.89" fill="#eb9072"/>
<rect x="1591.06" y="1805.75" width="46.88" height="46.89" fill="#c8433f"/>
<rect x="1637.34" y="1805.75" width="46.88" height="46.89" fill="#b61f2e"/>
<rect x="1683.62" y="1805.75" width="46.88" height="46.89" fill="#67001f"/>
<rect x="1035.70" y="1852.03" width="46.88" height="46.89" fill="#eff3f6"/>
<rect x="1081.98" y="1852.03" width="46.88" height="46.89" fill="#e27c62"/>
<rect x="1128.26" y="1852.03" width="46.88" height="46.89" fill="#e27c62"/>
<rect x="1174.54" y="1852.03" width="46.88" height="46.89" fill="#f8c0a4"/>
<rect x="1220.82" y="1852.03" width="46.88" height="46.89" fill="#f19e7d"/>
<rect x="1267.10" y="1852.03" width="46.88" height="46.89" fill="#fce1d1"/>
<rect x="1313.38" y="1852.03" width="46.88" height="46.89" fill="#c43c3c"/>
<rect x="1359.66" y="1852.03" width="46.88" height="46.89" fill="#7e0723"/>
<rect x="1405.94" y="1852.03" width="46.88" height="46.89" fill="#bd2e35"/>
<rect x="1452.22" y="1852.03" width="46.88" height="46.89" fill="#67001f"/>
<rect x="1498.50" y="1852.03" width="46.88" height="46.89" fill="#67001f"/>
<rect x="1544.78" y="1852.03" width="46.88" height="46.89" fill="#c43c3c"/>
<rect x="1591.06" y="1852.03" width="46.88" height="46.89" fill="#7e0723"/>
<rect x="1637.34" y="1852.03" width="46.88" height="46.89" fill="#d2594a"/>
<rect x="1683.62" y="1852.03" width="46.88" height="46.89" fill="#67001f"/>
<rect x="1035.70" y="1898.32" width="46.88" height="46.89" fill="#a5cfe3"/>
<rect x="1081.98" y="1898.32" width="46.88" height="46.89" fill="#f8c0a4"/>
<rect x="1128.26" y="1898.32" width="46.88" height="46.89" fill="#f7b597"/>
<rect x="1174.54" y="1898.32" width="46.88" height="46.89" fill="#facbb2"/>
<rect x="1220.82" y="1898.32" width="46.88" height="46.89" fill="#ecf2f5"/>
<rect x="1267.10" y="1898.32" width="46.88" height="46.89" fill="#f3f5f6"/>
<rect x="1313.38" y="1898.32" width="46.88" height="46.89" fill="#fcd6c0"/>
<rect x="1359.66" y="1898.32" width="46.88" height="46.89" fill="#f8bb9e"/>
<rect x="1405.94" y="1898.32" width="46.88" height="46.89" fill="#d96752"/>
<rect x="1452.22" y="1898.32" width="46.88" height="46.89" fill="#f19e7d"/>
<rect x="1498.50" y="1898.32" width="46.88" height="46.89" fill="#dc6e58"/>
<rect x="1544.78" y="1898.32" width="46.88" height="46.89" fill="#f7b597"/>
<rect x="1591.06" y="1898.32" width="46.88" height="46.89" fill="#e27c62"/>
<rect x="1637.34" y="1898.32" width="46.88" height="46.89" fill="#c43c3c"/>
<rect x="1683.62" y="1898.32" width="46.88" height="46.89" fill="#940e26"/>
<rect x="1035.70" y="1944.61" width="46.88" height="46.89" fill="#ffffff"/>
<rect x="1081.98" y="1944.61" width="46.88" height="46.89" fill="#dceaf2"/>
<rect x="1128.26" y="1944.61" width="46.88" height="46.89" fill="#d5e7f1"/>
<rect x="1174.54" y="1944.61" width="46.88" height="46.89" fill="#f7f7f7"/>
<rect x="1220.82" y="1944.61" width="46.88" height="46.89" fill="#bedbeb"/>
<rect x="1267.10" y="1944.61" width="46.88" height="46.89" fill="#d5e7f1"/>
<rect x="1313.38" y="1944.61" width="46.88" height="46.89" fill="#f3f5f6"/>
<rect x="1359.66" y="1944.61" width="46.88" height="46.89" fill="#f8f1ed"/>
<rect x="1405.94" y="1944.61" width="46.88" height="46.89" fill="#f8c0a4"/>
<rect x="1452.22" y="1944.61" width="46.88" height="46.89" fill="#f7b597"/>
<rect x="1498.50" y="1944.61" width="46.88" height="46.89" fill="#fbd0b9"/>
<rect x="1544.78" y="1944.61" width="46.88" height="46.89" fill="#f8f4f2"/>
<rect x="1591.06" y="1944.61" width="46.88" height="46.89" fill="#fce1d1"/>
<rect x="1637.34" y="1944.61" width="46.88" height="46.89" fill="#f4a582"/>
<rect x="1683.62" y="1944.61" width="46.88" height="46.89" fill="#d96752"/>
<rect x="1035.70" y="1990.89" width="46.88" height="46.89" fill="#d1e5f0"/>
<rect x="1081.98" y="1990.89" width="46.88" height="46.89" fill="#d9e9f1"/>
<rect x="1128.26" y="1990.89" width="46.88" height="46.89" fill="#f9ece4"/>
<rect x="1174.54" y="1990.89" width="46.88" height="46.89" fill="#cbe2ee"/>
<rect x="1220.82" y="1990.89" width="46.88" height="46.89" fill="#f3f5f6"/>
<rect x="1267.10" y="1990.89" width="46.88" height="46.89" fill="#c4dfec"/>
<rect x="1313.38" y="1990.89" width="46.88" height="46.89" fill="#f8f4f2"/>
<rect x="1359.66" y="1990.89" width="46.88" height="46.89" fill="#fce1d1"/>
<rect x="1405.94" y="1990.89" width="46.88" height="46.89" fill="#fbe3d5"/>
<rect x="1452.22" y="1990.89" width="46.88" height="46.89" fill="#fbe3d5"/>
<rect x="1498.50" y="1990.89" width="46.88" height="46.89" fill="#fcdecc"/>
<rect x="1544.78" y="1990.89" width="46.88" height="46.89" fill="#ecf2f5"/>
<rect x="1591.06" y="1990.89" width="46.88" height="46.89" fill="#fce1d1"/>
<rect x="1637.34" y="1990.89" width="46.88" height="46.89" fill="#e8896d"/>
<rect x="1683.62" y="1990.89" width="46.88" height="46.89" fill="#e8896d"/>
<rect x="1035.70" y="2037.18" width="46.88" height="46.89" fill="#ffffff"/>
<rect x="1081.98" y="2037.18" width="46.88" height="46.89" fill="#ffffff"/>
<rect x="1128.26" y="2037.18" width="46.88" height="46.89" fill="#ffffff"/>
<rect x="1174.54" y="2037.18" width="46.88" height="46.89" fill="#ffffff"/>
<rect x="1220.82" y="2037.18" width="46.88" height="46.89" fill="#92c5de"/>
<rect x="1267.10" y="2037.18" width="46.88" height="46.89" fill="#ffffff"/>
<rect x="1313.38" y="2037.18" width="46.88" height="46.89" fill="#98c8e0"/>
<rect x="1359.66" y="2037.18" width="46.88" height="46.89" fill="#92c5de"/>
<rect x="1405.94" y="2037.18" width="46.88" height="46.89" fill="#fbe6da"/>
<rect x="1452.22" y="2037.18" width="46.88" height="46.89" fill="#92c5de"/>
<rect x="1498.50" y="2037.18" width="46.88" height="46.89" fill="#a5cfe3"/>
<rect x="1544.78" y="2037.18" width="46.88" height="46.89" fill="#a5cfe3"/>
<rect x="1591.06" y="2037.18" width="46.88" height="46.89" fill="#ffffff"/>
<rect x="1637.34" y="2037.18" width="46.88" height="46.89" fill="#f8c0a4"/>
<rect x="1683.62" y="2037.18" width="46.88" height="46.89" fill="#92c5de"/>
<rect x="1035.70" y="2083.47" width="46.88" height="46.89" fill="#ffffff"/>
<rect x="1081.98" y="2083.47" width="46.88" height="46.89" fill="#f8f4f2"/>
<rect x="1128.26" y="2083.47" width="46.88" height="46.89" fill="#abd2e5"/>
<rect x="1174.54" y="2083.47" width="46.88" height="46.89" fill="#b2d5e7"/>
<rect x="1220.82" y="2083.47" width="46.88" height="46.89" fill="#8ac0db"/>
<rect x="1267.10" y="2083.47" width="46.88" height="46.89" fill="#2166ac"/>
<rect x="1313.38" y="2083.47" width="46.88" height="46.89" fill="#b8d8e9"/>
<rect x="1359.66" y="2083.47" width="46.88" height="46.89" fill="#abd2e5"/>
<rect x="1405.94" y="2083.47" width="46.88" height="46.89" fill="#ecf2f5"/>
<rect x="1452.22" y="2083.47" width="46.88" height="46.89" fill="#7ab6d6"/>
<rect x="1498.50" y="2083.47" width="46.88" height="46.89" fill="#98c8e0"/>
<rect x="1544.78" y="2083.47" width="46.88" height="46.89" fill="#9fcbe2"/>
<rect x="1591.06" y="2083.47" width="46.88" height="46.89" fill="#82bbd9"/>
<rect x="1637.34" y="2083.47" width="46.88" height="46.89" fill="#9fcbe2"/>
<rect x="1683.62" y="2083.47" width="46.88" height="46.89" fill="#f3f5f6"/>
<rect x="1035.70" y="2129.75" width="46.88" height="46.89" fill="#ffffff"/>
<rect x="1081.98" y="2129.75" width="46.88" height="46.89" fill="#f8f3f0"/>
<rect x="1128.26" y="2129.75" width="46.88" height="46.89" fill="#fce1d1"/>
<rect x="1174.54" y="2129.75" width="46.88" height="46.89" fill="#cbe2ee"/>
<rect x="1220.82" y="2129.75" width="46.88" height="46.89" fill="#e0ecf3"/>
<rect x="1267.10" y="2129.75" width="46.88" height="46.89" fill="#b8d8e9"/>
<rect x="1313.38" y="2129.75" width="46.88" height="46.89" fill="#fbe6da"/>
<rect x="1359.66" y="2129.75" width="46.88" height="46.89" fill="#fcd6c0"/>
<rect x="1405.94" y="2129.75" width="46.88" height="46.89" fill="#f8c0a4"/>
<rect x="1452.22" y="2129.75" width="46.88" height="46.89" fill="#f8bb9e"/>
<rect x="1498.50" y="2129.75" width="46.88" height="46.89" fill="#ee9777"/>
<rect x="1544.78" y="2129.75" width="46.88" height="46.89" fill="#f8f1ed"/>
<rect x="1591.06" y="2129.75" width="46.88" height="46.89" fill="#e8896d"/>
<rect x="1637.34" y="2129.75" width="46.88" height="46.89" fill="#d96752"/>
<rect x="1683.62" y="2129.75" width="46.88" height="46.89" fill="#b2182b"/>
<rect x="1035.70" y="2176.04" width="46.88" height="46.89" fill="#ffffff"/>
<rect x="1081.98" y="2176.04" width="46.88" height="46.89" fill="#b2d5e7"/>
<rect x="1128.26" y="2176.04" width="46.88" height="46.89" fill="#dceaf2"/>
<rect x="1174.54" y="2176.04" width="46.88" height="46.89" fill="#ffffff"/>
<rect x="1220.82" y="2176.04" width="46.88" height="46.89" fill="#6aacd0"/>
<rect x="1267.10" y="2176.04" width="46.88" height="46.89" fill="#b8d8e9"/>
<rect x="1313.38" y="2176.04" width="46.88" height="46.89" fill="#d9e9f1"/>
<rect x="1359.66" y="2176.04" width="46.88" height="46.89" fill="#d5e7f1"/>
<rect x="1405.94" y="2176.04" width="46.88" height="46.89" fill="#eff3f6"/>
<rect x="1452.22" y="2176.04" width="46.88" height="46.89" fill="#134b86"/>
<rect x="1498.50" y="2176.04" width="46.88" height="46.89" fill="#b8d8e9"/>
<rect x="1544.78" y="2176.04" width="46.88" height="46.89" fill="#cbe2ee"/>
<rect x="1591.06" y="2176.04" width="46.88" height="46.89" fill="#cbe2ee"/>
<rect x="1637.34" y="2176.04" width="46.88" height="46.89" fill="#f3f5f6"/>
<rect x="1683.62" y="2176.04" width="46.88" height="46.89" fill="#f3f5f6"/>
<rect x="1035.70" y="2222.33" width="46.88" height="46.89" fill="#ffffff"/>
<rect x="1081.98" y="2222.33" width="46.88" height="46.89" fill="#e27c62"/>
<rect x="1128.26" y="2222.33" width="46.88" height="46.89" fill="#f5aa89"/>
<rect x="1174.54" y="2222.33" width="46.88" height="46.89" fill="#ffffff"/>
<rect x="1220.82" y="2222.33" width="46.88" height="46.89" fill="#ecf2f5"/>
<rect x="1267.10" y="2222.33" width="46.88" height="46.89" fill="#e27c62"/>
<rect x="1313.38" y="2222.33" width="46.88" height="46.89" fill="#fbe6da"/>
<rect x="1359.66" y="2222.33" width="46.88" height="46.89" fill="#7ab6d6"/>
<rect x="1405.94" y="2222.33" width="46.88" height="46.89" fill="#fae9df"/>
<rect x="1452.22" y="2222.33" width="46.88" height="46.89" fill="#92c5de"/>
<rect x="1498.50" y="2222.33" width="46.88" height="46.89" fill="#b8d8e9"/>
<rect x="1544.78" y="2222.33" width="46.88" height="46.89" fill="#fcd6c0"/>
<rect x="1591.06" y="2222.33" width="46.88" height="46.89" fill="#fce1d1"/>
<rect x="1637.34" y="2222.33" width="46.88" height="46.89" fill="#f7f6f5"/>
<rect x="1683.62" y="2222.33" width="46.88" height="46.89" fill="#b2d5e7"/>
<rect x="1035.70" y="2268.61" width="46.88" height="46.89" fill="#ffffff"/>
<rect x="1081.98" y="2268.61" width="46.88" height="46.89" fill="#d9e9f1"/>
<rect x="1128.26" y="2268.61" width="46.88" height="46.89" fill="#f9ece4"/>
<rect x="1174.54" y="2268.61" width="46.88" height="46.89" fill="#ffffff"/>
<rect x="1220.82" y="2268.61" width="46.88" height="46.89" fill="#b8d8e9"/>
<rect x="1267.10" y="2268.61" width="46.88" height="46.89" fill="#b8d8e9"/>
<rect x="1313.38" y="2268.61" width="46.88" height="46.89" fill="#a5cfe3"/>
<rect x="1359.66" y="2268.61" width="46.88" height="46.89" fill="#e8f0f4"/>
<rect x="1405.94" y="2268.61" width="46.88" height="46.89" fill="#f8f4f2"/>
<rect x="1452.22" y="2268.61" width="46.88" height="46.89" fill="#7ab6d6"/>
<rect x="1498.50" y="2268.61" width="46.88" height="46.89" fill="#82bbd9"/>
<rect x="1544.78" y="2268.61" width="46.88" height="46.89" fill="#d1e5f0"/>
<rect x="1591.06" y="2268.61" width="46.88" height="46.89" fill="#9fcbe2"/>
<rect x="1637.34" y="2268.61" width="46.88" height="46.89" fill="#6aacd0"/>
<rect x="1683.62" y="2268.61" width="46.88" height="46.89" fill="#abd2e5"/>
<g stroke-opacity="0.5">
<line x1="1082.28" y1="1620.90" x2="1082.28" y2="2315.20" stroke="#2b2b2d" stroke-width="1.5"/>
<line x1="1036.00" y1="1667.19" x2="1730.20" y2="1667.19" stroke="#2b2b2d" stroke-width="1.5"/>
<line x1="1128.56" y1="1620.90" x2="1128.56" y2="2315.20" stroke="#2b2b2d" stroke-width="1.5"/>
<line x1="1036.00" y1="1713.47" x2="1730.20" y2="1713.47" stroke="#2b2b2d" stroke-width="1.5"/>
<line x1="1174.84" y1="1620.90" x2="1174.84" y2="2315.20" stroke="#2b2b2d" stroke-width="1.5"/>
<line x1="1036.00" y1="1759.76" x2="1730.20" y2="1759.76" stroke="#2b2b2d" stroke-width="1.5"/>
<line x1="1267.40" y1="1620.90" x2="1267.40" y2="2315.20" stroke="#2b2b2d" stroke-width="1.5"/>
<line x1="1036.00" y1="1852.33" x2="1730.20" y2="1852.33" stroke="#2b2b2d" stroke-width="1.5"/>
<line x1="1313.68" y1="1620.90" x2="1313.68" y2="2315.20" stroke="#2b2b2d" stroke-width="1.5"/>
<line x1="1036.00" y1="1898.62" x2="1730.20" y2="1898.62" stroke="#2b2b2d" stroke-width="1.5"/>
<line x1="1359.96" y1="1620.90" x2="1359.96" y2="2315.20" stroke="#2b2b2d" stroke-width="1.5"/>
<line x1="1036.00" y1="1944.91" x2="1730.20" y2="1944.91" stroke="#2b2b2d" stroke-width="1.5"/>
<line x1="1406.24" y1="1620.90" x2="1406.24" y2="2315.20" stroke="#2b2b2d" stroke-width="1.5"/>
<line x1="1036.00" y1="1991.19" x2="1730.20" y2="1991.19" stroke="#2b2b2d" stroke-width="1.5"/>
<line x1="1498.80" y1="1620.90" x2="1498.80" y2="2315.20" stroke="#2b2b2d" stroke-width="1.5"/>
<line x1="1036.00" y1="2083.77" x2="1730.20" y2="2083.77" stroke="#2b2b2d" stroke-width="1.5"/>
<line x1="1545.08" y1="1620.90" x2="1545.08" y2="2315.20" stroke="#2b2b2d" stroke-width="1.5"/>
<line x1="1036.00" y1="2130.05" x2="1730.20" y2="2130.05" stroke="#2b2b2d" stroke-width="1.5"/>
<line x1="1637.64" y1="1620.90" x2="1637.64" y2="2315.20" stroke="#2b2b2d" stroke-width="1.5"/>
<line x1="1036.00" y1="2222.63" x2="1730.20" y2="2222.63" stroke="#2b2b2d" stroke-width="1.5"/>
</g>
<line x1="1221.12" y1="1620.90" x2="1221.12" y2="2315.20" stroke="#414042" stroke-width="3.9"/>
<line x1="1036.00" y1="1806.05" x2="1730.20" y2="1806.05" stroke="#414042" stroke-width="3.9"/>
<line x1="1452.52" y1="1620.90" x2="1452.52" y2="2315.20" stroke="#414042" stroke-width="3.9"/>
<line x1="1036.00" y1="2037.48" x2="1730.20" y2="2037.48" stroke="#414042" stroke-width="3.9"/>
<line x1="1591.36" y1="1620.90" x2="1591.36" y2="2315.20" stroke="#414042" stroke-width="3.9"/>
<line x1="1036.00" y1="2176.34" x2="1730.20" y2="2176.34" stroke="#414042" stroke-width="3.9"/>
<line x1="1683.92" y1="1620.90" x2="1683.92" y2="2315.20" stroke="#414042" stroke-width="3.9"/>
<line x1="1036.00" y1="2268.91" x2="1730.20" y2="2268.91" stroke="#414042" stroke-width="3.9"/>
<rect x="1036.00" y="1620.90" width="694.20" height="694.30" fill="none" stroke="#4a4a4c" stroke-width="4.8"/>
<text font-size="26.5" font-weight="bold" text-anchor="end" fill="#231f20" stroke="#231f20" stroke-width="0.55" stroke-linejoin="round" x="1021.80" y="1654.34">Pr-A</text>
<text font-size="26.6" font-weight="bold" text-anchor="end" fill="#231f20" stroke="#231f20" stroke-width="0.56" stroke-linejoin="round" transform="translate(1066.50,2329.20) rotate(-90)">Pr-A</text>
<text font-size="26.5" font-weight="bold" text-anchor="end" fill="#231f20" stroke="#231f20" stroke-width="0.55" stroke-linejoin="round" x="1021.80" y="1700.63">Pr-W</text>
<text font-size="26.6" font-weight="bold" text-anchor="end" fill="#231f20" stroke="#231f20" stroke-width="0.56" stroke-linejoin="round" transform="translate(1112.80,2329.20) rotate(-90)">Pr-W</text>
<text font-size="26.5" font-weight="bold" text-anchor="end" fill="#231f20" stroke="#231f20" stroke-width="0.55" stroke-linejoin="round" x="1021.80" y="1746.92">Pr-B</text>
<text font-size="26.6" font-weight="bold" text-anchor="end" fill="#231f20" stroke="#231f20" stroke-width="0.56" stroke-linejoin="round" transform="translate(1159.10,2329.20) rotate(-90)">Pr-B</text>
<text font-size="26.5" font-weight="bold" text-anchor="end" fill="#231f20" stroke="#231f20" stroke-width="0.55" stroke-linejoin="round" x="1021.80" y="1793.20">Pr-F</text>
<text font-size="26.6" font-weight="bold" text-anchor="end" fill="#231f20" stroke="#231f20" stroke-width="0.56" stroke-linejoin="round" transform="translate(1205.40,2329.20) rotate(-90)">Pr-F</text>
<text font-size="26.5" font-weight="bold" text-anchor="end" fill="#231f20" stroke="#231f20" stroke-width="0.55" stroke-linejoin="round" x="1021.80" y="1839.49">En-Sd</text>
<text font-size="26.6" font-weight="bold" text-anchor="end" fill="#231f20" stroke="#231f20" stroke-width="0.56" stroke-linejoin="round" transform="translate(1251.70,2329.20) rotate(-90)">En-Sd</text>
<text font-size="26.5" font-weight="bold" text-anchor="end" fill="#231f20" stroke="#231f20" stroke-width="0.55" stroke-linejoin="round" x="1021.80" y="1885.78">En-Sp</text>
<text font-size="26.6" font-weight="bold" text-anchor="end" fill="#231f20" stroke="#231f20" stroke-width="0.56" stroke-linejoin="round" transform="translate(1298.00,2329.20) rotate(-90)">En-Sp</text>
<text font-size="26.5" font-weight="bold" text-anchor="end" fill="#231f20" stroke="#231f20" stroke-width="0.55" stroke-linejoin="round" x="1021.80" y="1932.06">En-W</text>
<text font-size="26.6" font-weight="bold" text-anchor="end" fill="#231f20" stroke="#231f20" stroke-width="0.56" stroke-linejoin="round" transform="translate(1344.30,2329.20) rotate(-90)">En-W</text>
<text font-size="26.5" font-weight="bold" text-anchor="end" fill="#231f20" stroke="#231f20" stroke-width="0.55" stroke-linejoin="round" x="1021.80" y="1978.35">En-Pd</text>
<text font-size="26.6" font-weight="bold" text-anchor="end" fill="#231f20" stroke="#231f20" stroke-width="0.56" stroke-linejoin="round" transform="translate(1390.60,2329.20) rotate(-90)">En-Pd</text>
<text font-size="26.5" font-weight="bold" text-anchor="end" fill="#231f20" stroke="#231f20" stroke-width="0.55" stroke-linejoin="round" x="1021.80" y="2024.64">En-Pp</text>
<text font-size="26.6" font-weight="bold" text-anchor="end" fill="#231f20" stroke="#231f20" stroke-width="0.56" stroke-linejoin="round" transform="translate(1436.90,2329.20) rotate(-90)">En-Pp</text>
<text font-size="26.5" font-weight="bold" text-anchor="end" fill="#231f20" stroke="#231f20" stroke-width="0.55" stroke-linejoin="round" x="1021.80" y="2070.92">Tr-S</text>
<text font-size="26.6" font-weight="bold" text-anchor="end" fill="#231f20" stroke="#231f20" stroke-width="0.56" stroke-linejoin="round" transform="translate(1483.20,2329.20) rotate(-90)">Tr-S</text>
<text font-size="26.5" font-weight="bold" text-anchor="end" fill="#231f20" stroke="#231f20" stroke-width="0.55" stroke-linejoin="round" x="1021.80" y="2117.21">Tr-P</text>
<text font-size="26.6" font-weight="bold" text-anchor="end" fill="#231f20" stroke="#231f20" stroke-width="0.56" stroke-linejoin="round" transform="translate(1529.50,2329.20) rotate(-90)">Tr-P</text>
<text font-size="26.5" font-weight="bold" text-anchor="end" fill="#231f20" stroke="#231f20" stroke-width="0.55" stroke-linejoin="round" x="1021.80" y="2163.50">Tr-I</text>
<text font-size="26.6" font-weight="bold" text-anchor="end" fill="#231f20" stroke="#231f20" stroke-width="0.56" stroke-linejoin="round" transform="translate(1575.80,2329.20) rotate(-90)">Tr-I</text>
<text font-size="26.5" font-weight="bold" text-anchor="end" fill="#231f20" stroke="#231f20" stroke-width="0.55" stroke-linejoin="round" x="1021.80" y="2209.78">Hc-P</text>
<text font-size="26.6" font-weight="bold" text-anchor="end" fill="#231f20" stroke="#231f20" stroke-width="0.56" stroke-linejoin="round" transform="translate(1622.10,2329.20) rotate(-90)">Hc-P</text>
<text font-size="26.5" font-weight="bold" text-anchor="end" fill="#231f20" stroke="#231f20" stroke-width="0.55" stroke-linejoin="round" x="1021.80" y="2256.07">Hc-H</text>
<text font-size="26.6" font-weight="bold" text-anchor="end" fill="#231f20" stroke="#231f20" stroke-width="0.56" stroke-linejoin="round" transform="translate(1668.40,2329.20) rotate(-90)">Hc-H</text>
<text font-size="26.5" font-weight="bold" text-anchor="end" fill="#231f20" stroke="#231f20" stroke-width="0.55" stroke-linejoin="round" x="1021.80" y="2302.36">Ns</text>
<text font-size="26.6" font-weight="bold" text-anchor="end" fill="#231f20" stroke="#231f20" stroke-width="0.56" stroke-linejoin="round" transform="translate(1714.70,2329.20) rotate(-90)">Ns</text>
<text font-size="26.2" font-weight="bold" text-anchor="middle" fill="#231f20" stroke="#231f20" stroke-width="0.55" stroke-linejoin="round" transform="translate(926.00,1968.65) rotate(-90)">stage N</text>
<text x="1382.3" y="1603.2" font-size="26.3" font-weight="bold" text-anchor="middle" fill="#231f20" textLength="247.7" lengthAdjust="spacingAndGlyphs"><tspan font-style="italic">loss</tspan> of accessibility</text>
<text font-size="25.9" font-weight="bold" text-anchor="middle" fill="#231f20" stroke="#231f20" stroke-width="0.54" stroke-linejoin="round" textLength="125" lengthAdjust="spacingAndGlyphs" x="1381.50" y="2459.40">Stage N+1</text>
</g>
<text font-size="30" font-weight="bold" text-anchor="start" fill="#000" stroke="#000" stroke-width="0.63" stroke-linejoin="round" x="885.00" y="1592.10">g</text>
<g id="colorbar">
<defs><linearGradient id="rdbu" x1="0" x2="1" y1="0" y2="0"><stop offset="0%" stop-color="#67001f"/><stop offset="10%" stop-color="#b2182b"/><stop offset="20%" stop-color="#d6604d"/><stop offset="30%" stop-color="#f4a582"/><stop offset="40%" stop-color="#fddbc7"/><stop offset="50%" stop-color="#f7f7f7"/><stop offset="60%" stop-color="#d1e5f0"/><stop offset="70%" stop-color="#92c5de"/><stop offset="80%" stop-color="#4393c3"/><stop offset="90%" stop-color="#2166ac"/><stop offset="100%" stop-color="#053061"/></linearGradient></defs>
<rect x="1576.80" y="2454.20" width="132.80" height="33.60" fill="url(#rdbu)" stroke="#231f20" stroke-width="2.0"/>
<text font-size="26.3" font-weight="bold" text-anchor="middle" fill="#231f20" stroke="#231f20" stroke-width="0.55" stroke-linejoin="round" textLength="202.5" lengthAdjust="spacingAndGlyphs" x="1641.30" y="2439.40">log2 enrichment</text>
<text font-size="26.3" font-weight="bold" text-anchor="middle" fill="#231f20" stroke="#231f20" stroke-width="0.55" stroke-linejoin="round" x="1584.60" y="2520.00">5</text>
<text font-size="26.3" font-weight="bold" text-anchor="middle" fill="#231f20" stroke="#231f20" stroke-width="0.55" stroke-linejoin="round" x="1701.60" y="2520.00">-5</text>
</g>
</svg></body></html>
